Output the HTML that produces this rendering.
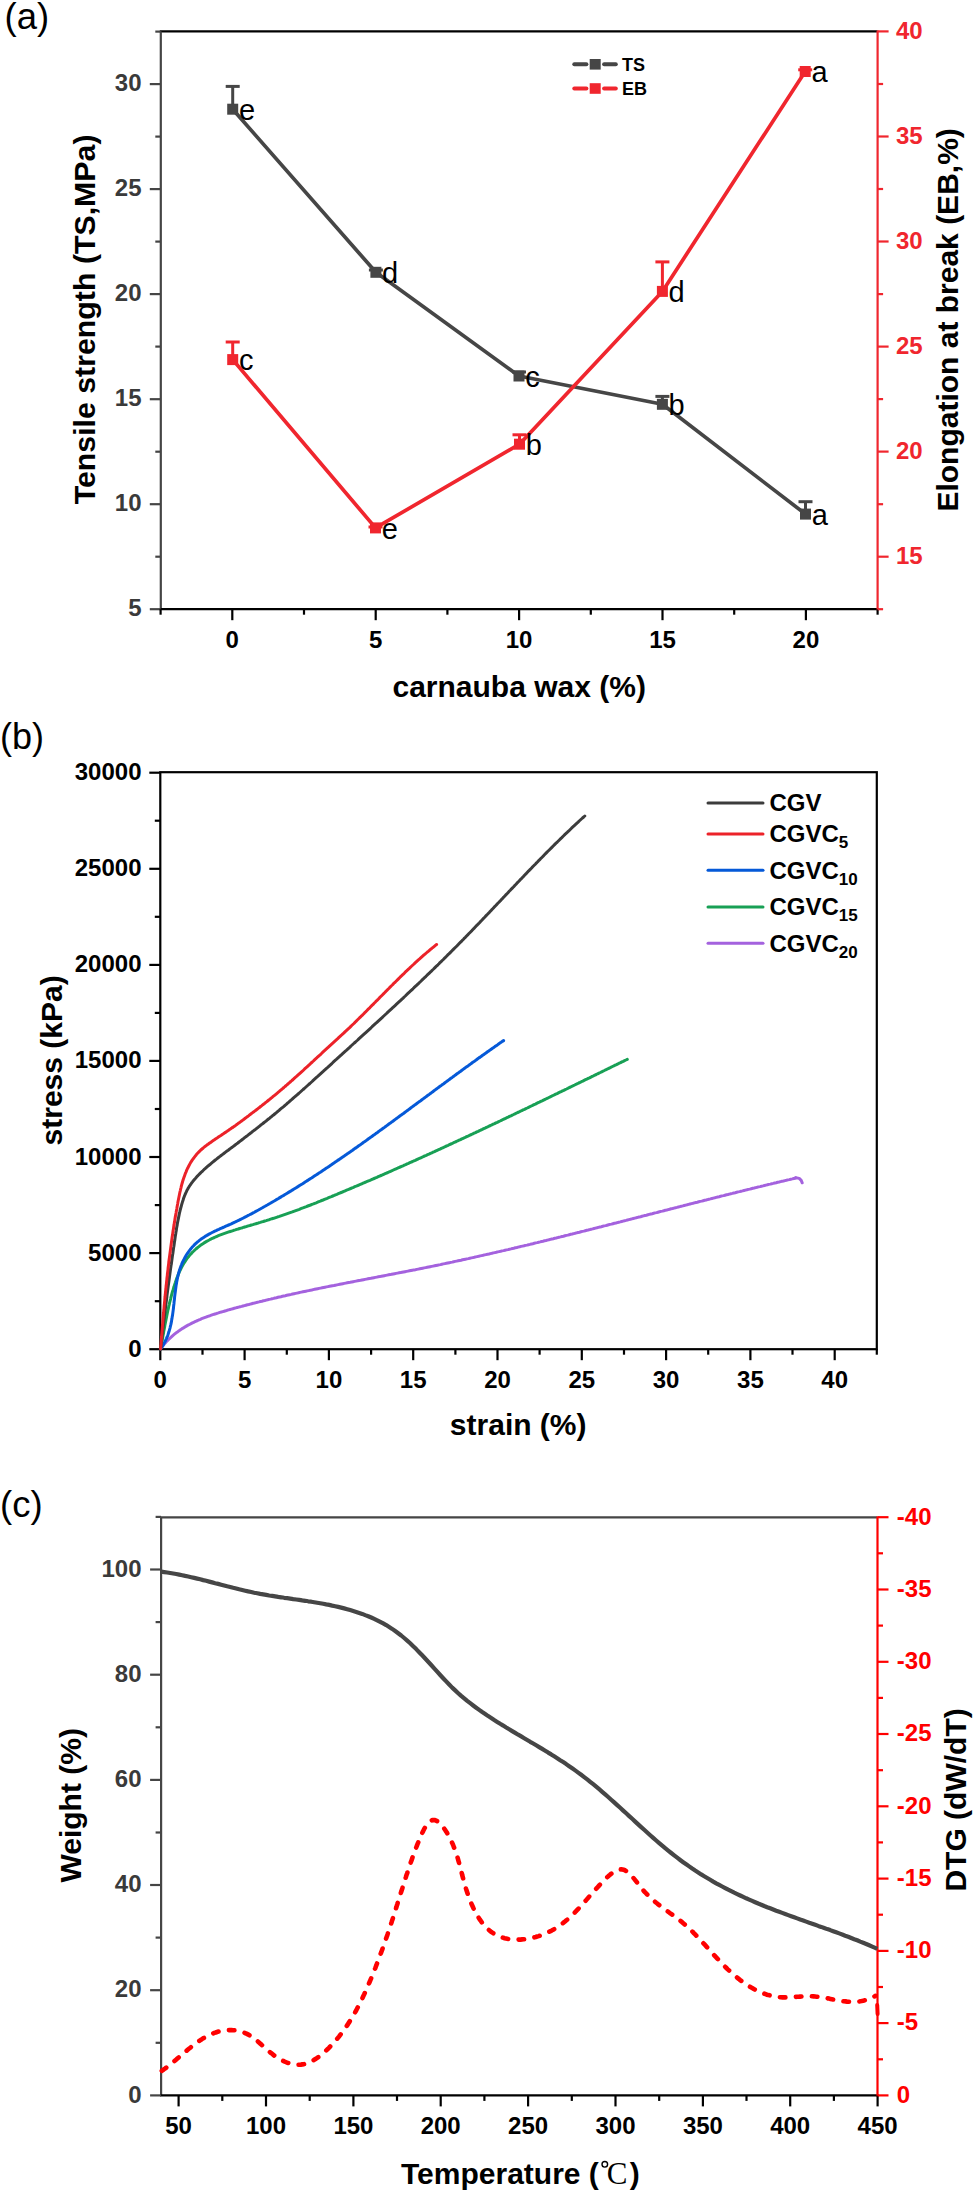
<!DOCTYPE html>
<html><head><meta charset="utf-8"><title>Figure</title>
<style>html,body{margin:0;padding:0;background:#fff;width:975px;height:2193px;overflow:hidden}svg{display:block}text{font-family:"Liberation Sans",sans-serif}</style>
</head><body>
<svg width="975" height="2193" viewBox="0 0 975 2193">
<rect width="975" height="2193" fill="#fff"/>
<text x="4.6" y="28.8" font-size="36.5" fill="#000" text-anchor="start" font-weight="normal" >(a)</text>
<line x1="159.8" y1="31.4" x2="877.6" y2="31.4" stroke="#000" stroke-width="2.2"/>
<line x1="160.8" y1="31.4" x2="160.8" y2="609.2" stroke="#454545" stroke-width="2.2"/>
<line x1="159.8" y1="609.2" x2="878.6" y2="609.2" stroke="#000" stroke-width="2.2"/>
<line x1="877.6" y1="30.4" x2="877.6" y2="610.2" stroke="#f0262e" stroke-width="2.2"/>
<line x1="149.8" y1="609.2" x2="160.8" y2="609.2" stroke="#454545" stroke-width="2.2"/>
<text x="141.5" y="616.2" font-size="24" fill="#3a3a3a" text-anchor="end" font-weight="bold" >5</text>
<line x1="155.3" y1="556.7" x2="160.8" y2="556.7" stroke="#454545" stroke-width="2.2"/>
<line x1="149.8" y1="504.2" x2="160.8" y2="504.2" stroke="#454545" stroke-width="2.2"/>
<text x="141.5" y="511.2" font-size="24" fill="#3a3a3a" text-anchor="end" font-weight="bold" >10</text>
<line x1="155.3" y1="451.7" x2="160.8" y2="451.7" stroke="#454545" stroke-width="2.2"/>
<line x1="149.8" y1="399.2" x2="160.8" y2="399.2" stroke="#454545" stroke-width="2.2"/>
<text x="141.5" y="406.2" font-size="24" fill="#3a3a3a" text-anchor="end" font-weight="bold" >15</text>
<line x1="155.3" y1="346.6" x2="160.8" y2="346.6" stroke="#454545" stroke-width="2.2"/>
<line x1="149.8" y1="294.1" x2="160.8" y2="294.1" stroke="#454545" stroke-width="2.2"/>
<text x="141.5" y="301.1" font-size="24" fill="#3a3a3a" text-anchor="end" font-weight="bold" >20</text>
<line x1="155.3" y1="241.6" x2="160.8" y2="241.6" stroke="#454545" stroke-width="2.2"/>
<line x1="149.8" y1="189.1" x2="160.8" y2="189.1" stroke="#454545" stroke-width="2.2"/>
<text x="141.5" y="196.1" font-size="24" fill="#3a3a3a" text-anchor="end" font-weight="bold" >25</text>
<line x1="155.3" y1="136.6" x2="160.8" y2="136.6" stroke="#454545" stroke-width="2.2"/>
<line x1="149.8" y1="84.1" x2="160.8" y2="84.1" stroke="#454545" stroke-width="2.2"/>
<text x="141.5" y="91.1" font-size="24" fill="#3a3a3a" text-anchor="end" font-weight="bold" >30</text>
<line x1="155.3" y1="31.6" x2="160.8" y2="31.6" stroke="#454545" stroke-width="2.2"/>
<line x1="160.6" y1="609.2" x2="160.6" y2="614.7" stroke="#000" stroke-width="2.2"/>
<line x1="232.3" y1="609.2" x2="232.3" y2="620.2" stroke="#000" stroke-width="2.2"/>
<text x="232.3" y="647.5" font-size="24" fill="#000" text-anchor="middle" font-weight="bold" >0</text>
<line x1="304.0" y1="609.2" x2="304.0" y2="614.7" stroke="#000" stroke-width="2.2"/>
<line x1="375.7" y1="609.2" x2="375.7" y2="620.2" stroke="#000" stroke-width="2.2"/>
<text x="375.7" y="647.5" font-size="24" fill="#000" text-anchor="middle" font-weight="bold" >5</text>
<line x1="447.4" y1="609.2" x2="447.4" y2="614.7" stroke="#000" stroke-width="2.2"/>
<line x1="519.1" y1="609.2" x2="519.1" y2="620.2" stroke="#000" stroke-width="2.2"/>
<text x="519.1" y="647.5" font-size="24" fill="#000" text-anchor="middle" font-weight="bold" >10</text>
<line x1="590.8" y1="609.2" x2="590.8" y2="614.7" stroke="#000" stroke-width="2.2"/>
<line x1="662.5" y1="609.2" x2="662.5" y2="620.2" stroke="#000" stroke-width="2.2"/>
<text x="662.5" y="647.5" font-size="24" fill="#000" text-anchor="middle" font-weight="bold" >15</text>
<line x1="734.2" y1="609.2" x2="734.2" y2="614.7" stroke="#000" stroke-width="2.2"/>
<line x1="805.9" y1="609.2" x2="805.9" y2="620.2" stroke="#000" stroke-width="2.2"/>
<text x="805.9" y="647.5" font-size="24" fill="#000" text-anchor="middle" font-weight="bold" >20</text>
<line x1="877.6" y1="609.2" x2="877.6" y2="614.7" stroke="#000" stroke-width="2.2"/>
<line x1="877.6" y1="609.2" x2="883.1" y2="609.2" stroke="#f0262e" stroke-width="2.2"/>
<line x1="877.6" y1="556.7" x2="888.6" y2="556.7" stroke="#f0262e" stroke-width="2.2"/>
<text x="896.0" y="564.0" font-size="24" fill="#f0262e" text-anchor="start" font-weight="bold" >15</text>
<line x1="877.6" y1="504.2" x2="883.1" y2="504.2" stroke="#f0262e" stroke-width="2.2"/>
<line x1="877.6" y1="451.6" x2="888.6" y2="451.6" stroke="#f0262e" stroke-width="2.2"/>
<text x="896.0" y="458.9" font-size="24" fill="#f0262e" text-anchor="start" font-weight="bold" >20</text>
<line x1="877.6" y1="399.1" x2="883.1" y2="399.1" stroke="#f0262e" stroke-width="2.2"/>
<line x1="877.6" y1="346.6" x2="888.6" y2="346.6" stroke="#f0262e" stroke-width="2.2"/>
<text x="896.0" y="353.9" font-size="24" fill="#f0262e" text-anchor="start" font-weight="bold" >25</text>
<line x1="877.6" y1="294.1" x2="883.1" y2="294.1" stroke="#f0262e" stroke-width="2.2"/>
<line x1="877.6" y1="241.5" x2="888.6" y2="241.5" stroke="#f0262e" stroke-width="2.2"/>
<text x="896.0" y="248.8" font-size="24" fill="#f0262e" text-anchor="start" font-weight="bold" >30</text>
<line x1="877.6" y1="189.0" x2="883.1" y2="189.0" stroke="#f0262e" stroke-width="2.2"/>
<line x1="877.6" y1="136.5" x2="888.6" y2="136.5" stroke="#f0262e" stroke-width="2.2"/>
<text x="896.0" y="143.8" font-size="24" fill="#f0262e" text-anchor="start" font-weight="bold" >35</text>
<line x1="877.6" y1="84.0" x2="883.1" y2="84.0" stroke="#f0262e" stroke-width="2.2"/>
<line x1="877.6" y1="31.4" x2="888.6" y2="31.4" stroke="#f0262e" stroke-width="2.2"/>
<text x="896.0" y="38.7" font-size="24" fill="#f0262e" text-anchor="start" font-weight="bold" >40</text>
<text x="519.2" y="697.0" font-size="30" fill="#000" text-anchor="middle" font-weight="bold" >carnauba wax (%)</text>
<text transform="translate(95.0,319.4) rotate(-90)" font-size="30.3" fill="#000" text-anchor="middle" font-weight="bold">Tensile strength (TS,MPa)</text>
<text transform="translate(957.5,319.9) rotate(-90)" font-size="30" fill="#000" text-anchor="middle" font-weight="bold">Elongation at break (EB,%)</text>
<path d="M232.7,109.2 L375.9,272.3 L519.0,376.0 L662.4,404.3 L805.5,514.1" fill="none" stroke="#464646" stroke-width="3.7" stroke-linejoin="round"/>
<line x1="232.7" y1="86.4" x2="232.7" y2="109.2" stroke="#464646" stroke-width="3"/>
<line x1="225.7" y1="86.4" x2="239.7" y2="86.4" stroke="#464646" stroke-width="3"/>
<rect x="227.2" y="103.7" width="11" height="11" fill="#464646"/>
<text x="238.9" y="119.8" font-size="29" fill="#000" text-anchor="start" font-weight="normal" >e</text>
<line x1="375.9" y1="270.0" x2="375.9" y2="272.3" stroke="#464646" stroke-width="3"/>
<line x1="368.9" y1="270.0" x2="382.9" y2="270.0" stroke="#464646" stroke-width="3"/>
<rect x="370.4" y="266.8" width="11" height="11" fill="#464646"/>
<text x="382.1" y="282.9" font-size="29" fill="#000" text-anchor="start" font-weight="normal" >d</text>
<line x1="519.0" y1="372.0" x2="519.0" y2="376.0" stroke="#464646" stroke-width="3"/>
<line x1="512.0" y1="372.0" x2="526.0" y2="372.0" stroke="#464646" stroke-width="3"/>
<rect x="513.5" y="370.5" width="11" height="11" fill="#464646"/>
<text x="525.2" y="386.6" font-size="29" fill="#000" text-anchor="start" font-weight="normal" >c</text>
<line x1="662.4" y1="396.4" x2="662.4" y2="404.3" stroke="#464646" stroke-width="3"/>
<line x1="655.4" y1="396.4" x2="669.4" y2="396.4" stroke="#464646" stroke-width="3"/>
<rect x="656.9" y="398.8" width="11" height="11" fill="#464646"/>
<text x="668.6" y="414.9" font-size="29" fill="#000" text-anchor="start" font-weight="normal" >b</text>
<line x1="805.5" y1="501.7" x2="805.5" y2="514.1" stroke="#464646" stroke-width="3"/>
<line x1="798.5" y1="501.7" x2="812.5" y2="501.7" stroke="#464646" stroke-width="3"/>
<rect x="800.0" y="508.6" width="11" height="11" fill="#464646"/>
<text x="811.7" y="524.7" font-size="29" fill="#000" text-anchor="start" font-weight="normal" >a</text>
<path d="M232.7,359.6 L375.5,527.9 L519.5,444.2 L662.4,291.4 L805.2,71.5" fill="none" stroke="#f0262e" stroke-width="3.7" stroke-linejoin="round"/>
<line x1="232.7" y1="342.0" x2="232.7" y2="359.6" stroke="#f0262e" stroke-width="3"/>
<line x1="225.7" y1="342.0" x2="239.7" y2="342.0" stroke="#f0262e" stroke-width="3"/>
<rect x="227.2" y="354.1" width="11" height="11" fill="#f0262e"/>
<text x="238.9" y="370.2" font-size="29" fill="#000" text-anchor="start" font-weight="normal" >c</text>
<line x1="375.5" y1="527.0" x2="375.5" y2="527.9" stroke="#f0262e" stroke-width="3"/>
<line x1="368.5" y1="527.0" x2="382.5" y2="527.0" stroke="#f0262e" stroke-width="3"/>
<rect x="370.0" y="522.4" width="11" height="11" fill="#f0262e"/>
<text x="381.7" y="538.5" font-size="29" fill="#000" text-anchor="start" font-weight="normal" >e</text>
<line x1="519.5" y1="434.8" x2="519.5" y2="444.2" stroke="#f0262e" stroke-width="3"/>
<line x1="512.5" y1="434.8" x2="526.5" y2="434.8" stroke="#f0262e" stroke-width="3"/>
<rect x="514.0" y="438.7" width="11" height="11" fill="#f0262e"/>
<text x="525.7" y="454.8" font-size="29" fill="#000" text-anchor="start" font-weight="normal" >b</text>
<line x1="662.4" y1="261.9" x2="662.4" y2="291.4" stroke="#f0262e" stroke-width="3"/>
<line x1="655.4" y1="261.9" x2="669.4" y2="261.9" stroke="#f0262e" stroke-width="3"/>
<rect x="656.9" y="285.9" width="11" height="11" fill="#f0262e"/>
<text x="668.6" y="302.0" font-size="29" fill="#000" text-anchor="start" font-weight="normal" >d</text>
<line x1="805.2" y1="69.8" x2="805.2" y2="71.5" stroke="#f0262e" stroke-width="3"/>
<line x1="798.2" y1="69.8" x2="812.2" y2="69.8" stroke="#f0262e" stroke-width="3"/>
<rect x="799.7" y="66.0" width="11" height="11" fill="#f0262e"/>
<text x="811.4" y="82.1" font-size="29" fill="#000" text-anchor="start" font-weight="normal" >a</text>
<line x1="574.3" y1="64.3" x2="586.4" y2="64.3" stroke="#464646" stroke-width="4" stroke-linecap="round"/>
<line x1="604.1" y1="64.3" x2="615.8" y2="64.3" stroke="#464646" stroke-width="4" stroke-linecap="round"/>
<rect x="589.7" y="59.0" width="11" height="10.6" fill="#464646"/>
<text x="622.0" y="70.6" font-size="18" fill="#000" text-anchor="start" font-weight="bold" >TS</text>
<line x1="574.3" y1="88.5" x2="586.4" y2="88.5" stroke="#f0262e" stroke-width="4" stroke-linecap="round"/>
<line x1="604.1" y1="88.5" x2="615.8" y2="88.5" stroke="#f0262e" stroke-width="4" stroke-linecap="round"/>
<rect x="589.7" y="83.2" width="11" height="10.6" fill="#f0262e"/>
<text x="622.0" y="94.8" font-size="18" fill="#000" text-anchor="start" font-weight="bold" >EB</text>
<text x="0.0" y="749.2" font-size="36" fill="#000" text-anchor="start" font-weight="normal" >(b)</text>
<rect x="160.3" y="772.2" width="716.5" height="577.0" fill="none" stroke="#000" stroke-width="2.2"/>
<line x1="149.3" y1="1349.2" x2="160.3" y2="1349.2" stroke="#000" stroke-width="2.2"/>
<text x="141.5" y="1356.7" font-size="24" fill="#000" text-anchor="end" font-weight="bold" >0</text>
<line x1="154.8" y1="1301.2" x2="160.3" y2="1301.2" stroke="#000" stroke-width="2.2"/>
<line x1="149.3" y1="1253.1" x2="160.3" y2="1253.1" stroke="#000" stroke-width="2.2"/>
<text x="141.5" y="1260.6" font-size="24" fill="#000" text-anchor="end" font-weight="bold" >5000</text>
<line x1="154.8" y1="1205.1" x2="160.3" y2="1205.1" stroke="#000" stroke-width="2.2"/>
<line x1="149.3" y1="1157.0" x2="160.3" y2="1157.0" stroke="#000" stroke-width="2.2"/>
<text x="141.5" y="1164.5" font-size="24" fill="#000" text-anchor="end" font-weight="bold" >10000</text>
<line x1="154.8" y1="1109.0" x2="160.3" y2="1109.0" stroke="#000" stroke-width="2.2"/>
<line x1="149.3" y1="1060.9" x2="160.3" y2="1060.9" stroke="#000" stroke-width="2.2"/>
<text x="141.5" y="1068.4" font-size="24" fill="#000" text-anchor="end" font-weight="bold" >15000</text>
<line x1="154.8" y1="1012.9" x2="160.3" y2="1012.9" stroke="#000" stroke-width="2.2"/>
<line x1="149.3" y1="964.9" x2="160.3" y2="964.9" stroke="#000" stroke-width="2.2"/>
<text x="141.5" y="972.4" font-size="24" fill="#000" text-anchor="end" font-weight="bold" >20000</text>
<line x1="154.8" y1="916.8" x2="160.3" y2="916.8" stroke="#000" stroke-width="2.2"/>
<line x1="149.3" y1="868.8" x2="160.3" y2="868.8" stroke="#000" stroke-width="2.2"/>
<text x="141.5" y="876.3" font-size="24" fill="#000" text-anchor="end" font-weight="bold" >25000</text>
<line x1="154.8" y1="820.7" x2="160.3" y2="820.7" stroke="#000" stroke-width="2.2"/>
<line x1="149.3" y1="772.7" x2="160.3" y2="772.7" stroke="#000" stroke-width="2.2"/>
<text x="141.5" y="780.2" font-size="24" fill="#000" text-anchor="end" font-weight="bold" >30000</text>
<line x1="160.3" y1="1349.2" x2="160.3" y2="1360.2" stroke="#000" stroke-width="2.2"/>
<text x="160.3" y="1387.7" font-size="24" fill="#000" text-anchor="middle" font-weight="bold" >0</text>
<line x1="202.5" y1="1349.2" x2="202.5" y2="1354.7" stroke="#000" stroke-width="2.2"/>
<line x1="244.6" y1="1349.2" x2="244.6" y2="1360.2" stroke="#000" stroke-width="2.2"/>
<text x="244.6" y="1387.7" font-size="24" fill="#000" text-anchor="middle" font-weight="bold" >5</text>
<line x1="286.8" y1="1349.2" x2="286.8" y2="1354.7" stroke="#000" stroke-width="2.2"/>
<line x1="328.9" y1="1349.2" x2="328.9" y2="1360.2" stroke="#000" stroke-width="2.2"/>
<text x="328.9" y="1387.7" font-size="24" fill="#000" text-anchor="middle" font-weight="bold" >10</text>
<line x1="371.1" y1="1349.2" x2="371.1" y2="1354.7" stroke="#000" stroke-width="2.2"/>
<line x1="413.2" y1="1349.2" x2="413.2" y2="1360.2" stroke="#000" stroke-width="2.2"/>
<text x="413.2" y="1387.7" font-size="24" fill="#000" text-anchor="middle" font-weight="bold" >15</text>
<line x1="455.4" y1="1349.2" x2="455.4" y2="1354.7" stroke="#000" stroke-width="2.2"/>
<line x1="497.5" y1="1349.2" x2="497.5" y2="1360.2" stroke="#000" stroke-width="2.2"/>
<text x="497.5" y="1387.7" font-size="24" fill="#000" text-anchor="middle" font-weight="bold" >20</text>
<line x1="539.6" y1="1349.2" x2="539.6" y2="1354.7" stroke="#000" stroke-width="2.2"/>
<line x1="581.8" y1="1349.2" x2="581.8" y2="1360.2" stroke="#000" stroke-width="2.2"/>
<text x="581.8" y="1387.7" font-size="24" fill="#000" text-anchor="middle" font-weight="bold" >25</text>
<line x1="624.0" y1="1349.2" x2="624.0" y2="1354.7" stroke="#000" stroke-width="2.2"/>
<line x1="666.1" y1="1349.2" x2="666.1" y2="1360.2" stroke="#000" stroke-width="2.2"/>
<text x="666.1" y="1387.7" font-size="24" fill="#000" text-anchor="middle" font-weight="bold" >30</text>
<line x1="708.2" y1="1349.2" x2="708.2" y2="1354.7" stroke="#000" stroke-width="2.2"/>
<line x1="750.4" y1="1349.2" x2="750.4" y2="1360.2" stroke="#000" stroke-width="2.2"/>
<text x="750.4" y="1387.7" font-size="24" fill="#000" text-anchor="middle" font-weight="bold" >35</text>
<line x1="792.5" y1="1349.2" x2="792.5" y2="1354.7" stroke="#000" stroke-width="2.2"/>
<line x1="834.7" y1="1349.2" x2="834.7" y2="1360.2" stroke="#000" stroke-width="2.2"/>
<text x="834.7" y="1387.7" font-size="24" fill="#000" text-anchor="middle" font-weight="bold" >40</text>
<line x1="876.8" y1="1349.2" x2="876.8" y2="1354.7" stroke="#000" stroke-width="2.2"/>
<text x="518.2" y="1435.4" font-size="30" fill="#000" text-anchor="middle" font-weight="bold" >strain (%)</text>
<text transform="translate(61.5,1060.4) rotate(-90)" font-size="30" fill="#000" text-anchor="middle" font-weight="bold">stress (kPa)</text>
<path d="M160.4,1348.9 L161.4,1347.7 L162.3,1346.4 L163.3,1345.2 L164.3,1344.1 L165.3,1342.9 L166.3,1341.8 L167.4,1340.7 L168.4,1339.6 L169.5,1338.6 L170.6,1337.6 L171.7,1336.6 L172.8,1335.6 L173.9,1334.7 L175.1,1333.7 L176.2,1332.8 L177.4,1332.0 L178.6,1331.1 L179.8,1330.3 L181.0,1329.4 L182.2,1328.6 L183.5,1327.9 L184.7,1327.1 L185.9,1326.4 L187.2,1325.6 L188.5,1324.9 L189.8,1324.3 L191.1,1323.6 L192.4,1322.9 L193.7,1322.3 L195.0,1321.7 L196.3,1321.1 L197.7,1320.5 L199.0,1319.9 L200.4,1319.3 L201.7,1318.7 L203.1,1318.2 L204.5,1317.7 L205.9,1317.2 L207.2,1316.6 L208.6,1316.1 L210.0,1315.7 L211.4,1315.2 L212.8,1314.7 L214.3,1314.2 L215.7,1313.8 L217.1,1313.3 L218.5,1312.9 L219.9,1312.4 L221.4,1312.0 L222.8,1311.6 L224.2,1311.2 L225.7,1310.8 L227.1,1310.3 L228.6,1309.9 L230.0,1309.5 L231.4,1309.1 L232.9,1308.7 L234.3,1308.3 L235.8,1307.9 L237.2,1307.5 L238.7,1307.1 L240.1,1306.7 L241.6,1306.4 L243.0,1306.0 L244.5,1305.6 L245.9,1305.2 L247.4,1304.8 L248.8,1304.5 L250.3,1304.1 L251.7,1303.7 L253.2,1303.3 L254.6,1303.0 L256.1,1302.6 L257.5,1302.2 L259.0,1301.9 L260.4,1301.5 L261.9,1301.2 L263.4,1300.8 L264.8,1300.5 L266.3,1300.1 L267.7,1299.8 L269.2,1299.4 L270.6,1299.1 L272.1,1298.7 L273.6,1298.4 L275.0,1298.0 L276.5,1297.7 L278.0,1297.3 L279.4,1297.0 L280.9,1296.7 L282.4,1296.3 L283.8,1296.0 L285.3,1295.7 L286.8,1295.3 L288.2,1295.0 L289.7,1294.7 L291.2,1294.4 L292.6,1294.0 L294.1,1293.7 L295.6,1293.4 L297.0,1293.1 L298.5,1292.8 L300.0,1292.4 L301.4,1292.1 L302.9,1291.8 L304.4,1291.5 L305.9,1291.2 L307.3,1290.9 L308.8,1290.6 L310.3,1290.3 L311.8,1290.0 L313.2,1289.6 L314.7,1289.3 L316.2,1289.0 L317.7,1288.7 L319.1,1288.4 L320.6,1288.1 L322.1,1287.8 L323.6,1287.5 L325.0,1287.2 L326.5,1286.9 L328.0,1286.6 L329.5,1286.3 L331.0,1286.0 L332.4,1285.7 L333.9,1285.5 L335.4,1285.2 L336.9,1284.9 L338.3,1284.6 L339.8,1284.3 L341.3,1284.0 L342.8,1283.7 L344.3,1283.4 L345.7,1283.1 L347.2,1282.8 L348.7,1282.5 L350.2,1282.3 L351.7,1282.0 L353.1,1281.7 L354.6,1281.4 L356.1,1281.1 L357.6,1280.8 L359.1,1280.5 L360.6,1280.3 L362.0,1280.0 L363.5,1279.7 L365.0,1279.4 L366.5,1279.1 L368.0,1278.8 L369.4,1278.5 L370.9,1278.3 L372.4,1278.0 L373.9,1277.7 L375.4,1277.4 L376.9,1277.1 L378.3,1276.8 L379.8,1276.6 L381.3,1276.3 L382.8,1276.0 L384.3,1275.7 L385.7,1275.4 L387.2,1275.1 L388.7,1274.8 L390.2,1274.6 L391.7,1274.3 L393.2,1274.0 L394.6,1273.7 L396.1,1273.4 L397.6,1273.1 L399.1,1272.8 L400.6,1272.6 L402.0,1272.3 L403.5,1272.0 L405.0,1271.7 L406.5,1271.4 L408.0,1271.1 L409.4,1270.8 L410.9,1270.5 L412.4,1270.2 L413.9,1269.9 L415.4,1269.7 L416.8,1269.4 L418.3,1269.1 L419.8,1268.8 L421.3,1268.5 L422.7,1268.2 L424.2,1267.9 L425.7,1267.6 L427.2,1267.3 L428.7,1267.0 L430.1,1266.7 L431.6,1266.4 L433.1,1266.1 L434.6,1265.8 L436.0,1265.5 L437.5,1265.2 L439.0,1264.9 L440.5,1264.6 L441.9,1264.2 L443.4,1263.9 L444.9,1263.6 L446.4,1263.3 L447.8,1263.0 L449.3,1262.7 L450.8,1262.4 L452.2,1262.1 L453.7,1261.7 L455.2,1261.4 L456.7,1261.1 L458.1,1260.8 L459.6,1260.5 L461.1,1260.2 L462.5,1259.8 L464.0,1259.5 L465.5,1259.2 L466.9,1258.9 L468.4,1258.6 L469.9,1258.2 L471.4,1257.9 L472.8,1257.6 L474.3,1257.3 L475.8,1256.9 L477.2,1256.6 L478.7,1256.3 L480.2,1255.9 L481.6,1255.6 L483.1,1255.3 L484.6,1254.9 L486.0,1254.6 L487.5,1254.3 L489.0,1254.0 L490.4,1253.6 L491.9,1253.3 L493.4,1252.9 L494.8,1252.6 L496.3,1252.3 L497.7,1251.9 L499.2,1251.6 L500.7,1251.3 L502.1,1250.9 L503.6,1250.6 L505.1,1250.2 L506.5,1249.9 L508.0,1249.6 L509.5,1249.2 L510.9,1248.9 L512.4,1248.5 L513.8,1248.2 L515.3,1247.8 L516.8,1247.5 L518.2,1247.1 L519.7,1246.8 L521.1,1246.4 L522.6,1246.1 L524.1,1245.8 L525.5,1245.4 L527.0,1245.1 L528.5,1244.7 L529.9,1244.4 L531.4,1244.0 L532.8,1243.7 L534.3,1243.3 L535.8,1242.9 L537.2,1242.6 L538.7,1242.2 L540.1,1241.9 L541.6,1241.5 L543.0,1241.2 L544.5,1240.8 L546.0,1240.5 L547.4,1240.1 L548.9,1239.8 L550.3,1239.4 L551.8,1239.0 L553.3,1238.7 L554.7,1238.3 L556.2,1238.0 L557.6,1237.6 L559.1,1237.2 L560.5,1236.9 L562.0,1236.5 L563.5,1236.2 L564.9,1235.8 L566.4,1235.4 L567.8,1235.1 L569.3,1234.7 L570.7,1234.3 L572.2,1234.0 L573.7,1233.6 L575.1,1233.3 L576.6,1232.9 L578.0,1232.5 L579.5,1232.2 L580.9,1231.8 L582.4,1231.4 L583.8,1231.1 L585.3,1230.7 L586.8,1230.3 L588.2,1230.0 L589.7,1229.6 L591.1,1229.2 L592.6,1228.9 L594.0,1228.5 L595.5,1228.1 L596.9,1227.8 L598.4,1227.4 L599.9,1227.0 L601.3,1226.7 L602.8,1226.3 L604.2,1225.9 L605.7,1225.6 L607.1,1225.2 L608.6,1224.8 L610.0,1224.4 L611.5,1224.1 L612.9,1223.7 L614.4,1223.3 L615.9,1223.0 L617.3,1222.6 L618.8,1222.2 L620.2,1221.9 L621.7,1221.5 L623.1,1221.1 L624.6,1220.7 L626.0,1220.4 L627.5,1220.0 L628.9,1219.6 L630.4,1219.3 L631.9,1218.9 L633.3,1218.5 L634.8,1218.1 L636.2,1217.8 L637.7,1217.4 L639.1,1217.0 L640.6,1216.7 L642.0,1216.3 L643.5,1215.9 L644.9,1215.5 L646.4,1215.2 L647.9,1214.8 L649.3,1214.4 L650.8,1214.0 L652.2,1213.7 L653.7,1213.3 L655.1,1212.9 L656.6,1212.6 L658.0,1212.2 L659.5,1211.8 L660.9,1211.4 L662.4,1211.1 L663.9,1210.7 L665.3,1210.3 L666.8,1210.0 L668.2,1209.6 L669.7,1209.2 L671.1,1208.8 L672.6,1208.5 L674.0,1208.1 L675.5,1207.7 L676.9,1207.4 L678.4,1207.0 L679.9,1206.6 L681.3,1206.2 L682.8,1205.9 L684.2,1205.5 L685.7,1205.1 L687.1,1204.8 L688.6,1204.4 L690.0,1204.0 L691.5,1203.6 L693.0,1203.3 L694.4,1202.9 L695.9,1202.5 L697.3,1202.2 L698.8,1201.8 L700.2,1201.4 L701.7,1201.1 L703.2,1200.7 L704.6,1200.3 L706.1,1200.0 L707.5,1199.6 L709.0,1199.2 L710.4,1198.9 L711.9,1198.5 L713.4,1198.1 L714.8,1197.8 L716.3,1197.4 L717.7,1197.0 L719.2,1196.7 L720.6,1196.3 L722.1,1195.9 L723.6,1195.6 L725.0,1195.2 L726.5,1194.8 L727.9,1194.5 L729.4,1194.1 L730.9,1193.7 L732.3,1193.4 L733.8,1193.0 L735.2,1192.7 L736.7,1192.3 L738.2,1191.9 L739.6,1191.6 L741.1,1191.2 L742.5,1190.9 L744.0,1190.5 L745.5,1190.1 L746.9,1189.8 L748.4,1189.4 L749.8,1189.1 L751.3,1188.7 L752.8,1188.3 L754.2,1188.0 L755.7,1187.6 L757.1,1187.3 L758.6,1186.9 L760.1,1186.6 L761.5,1186.2 L763.0,1185.9 L764.5,1185.5 L765.9,1185.1 L767.4,1184.8 L768.8,1184.4 L770.3,1184.1 L771.8,1183.7 L773.2,1183.4 L774.7,1183.0 L776.2,1182.7 L777.6,1182.3 L779.1,1182.0 L780.6,1181.6 L782.0,1181.3 L783.5,1181.0 L785.0,1180.6 L786.4,1180.3 L787.9,1179.9 L789.4,1179.6 L790.8,1179.2 L792.3,1178.9 L793.8,1178.5 L795.2,1178.2 L796.7,1177.9 L795.6,1177.6 L799.2,1178.4 L801.2,1180.4 L802.2,1182.8" fill="none" stroke="#a462de" stroke-width="3" stroke-linecap="round" stroke-linejoin="round"/>
<path d="M160.6,1349.0 L160.8,1347.6 L161.1,1346.2 L161.4,1344.8 L161.6,1343.3 L161.9,1341.9 L162.2,1340.5 L162.4,1339.0 L162.7,1337.6 L162.9,1336.1 L163.2,1334.7 L163.5,1333.2 L163.7,1331.7 L164.0,1330.2 L164.3,1328.7 L164.6,1327.2 L164.8,1325.8 L165.1,1324.3 L165.4,1322.8 L165.7,1321.2 L166.0,1319.7 L166.3,1318.2 L166.6,1316.7 L166.9,1315.2 L167.2,1313.7 L167.5,1312.2 L167.8,1310.7 L168.2,1309.2 L168.5,1307.7 L168.8,1306.1 L169.2,1304.6 L169.5,1303.1 L169.9,1301.6 L170.3,1300.1 L170.7,1298.6 L171.0,1297.1 L171.4,1295.6 L171.8,1294.2 L172.2,1292.7 L172.6,1291.2 L173.1,1289.7 L173.5,1288.3 L174.0,1286.8 L174.4,1285.4 L174.9,1283.9 L175.4,1282.5 L175.8,1281.1 L176.3,1279.6 L176.8,1278.2 L177.4,1276.8 L177.9,1275.4 L178.5,1274.1 L179.0,1272.7 L179.6,1271.3 L180.3,1270.0 L180.9,1268.7 L181.6,1267.4 L182.2,1266.1 L183.0,1264.8 L183.7,1263.5 L184.5,1262.3 L185.3,1261.1 L186.1,1259.9 L186.9,1258.7 L187.8,1257.5 L188.8,1256.4 L189.7,1255.2 L190.7,1254.1 L191.7,1253.1 L192.7,1252.0 L193.8,1251.0 L194.8,1250.0 L195.9,1249.0 L197.1,1248.0 L198.2,1247.1 L199.4,1246.2 L200.5,1245.3 L201.7,1244.5 L202.9,1243.7 L204.1,1242.9 L205.4,1242.1 L206.6,1241.4 L207.9,1240.7 L209.2,1240.0 L210.4,1239.3 L211.7,1238.7 L213.0,1238.1 L214.4,1237.5 L215.7,1236.9 L217.0,1236.3 L218.4,1235.7 L219.7,1235.2 L221.1,1234.7 L222.5,1234.2 L223.9,1233.7 L225.3,1233.2 L226.7,1232.7 L228.1,1232.2 L229.5,1231.7 L230.9,1231.3 L232.4,1230.8 L233.8,1230.3 L235.3,1229.9 L236.7,1229.4 L238.2,1229.0 L239.6,1228.5 L241.1,1228.1 L242.6,1227.7 L244.0,1227.2 L245.5,1226.8 L247.0,1226.3 L248.5,1225.9 L249.9,1225.5 L251.4,1225.0 L252.9,1224.6 L254.4,1224.1 L255.9,1223.7 L257.4,1223.3 L258.8,1222.8 L260.3,1222.4 L261.8,1221.9 L263.3,1221.5 L264.8,1221.0 L266.2,1220.6 L267.7,1220.1 L269.2,1219.7 L270.7,1219.2 L272.1,1218.7 L273.6,1218.3 L275.0,1217.8 L276.5,1217.3 L277.9,1216.8 L279.4,1216.4 L280.8,1215.9 L282.3,1215.4 L283.7,1214.9 L285.2,1214.4 L286.6,1213.9 L288.0,1213.4 L289.4,1212.9 L290.9,1212.4 L292.3,1211.9 L293.7,1211.3 L295.1,1210.8 L296.5,1210.3 L298.0,1209.8 L299.4,1209.3 L300.8,1208.7 L302.2,1208.2 L303.6,1207.7 L305.0,1207.1 L306.4,1206.6 L307.8,1206.0 L309.2,1205.5 L310.6,1205.0 L312.0,1204.4 L313.4,1203.9 L314.8,1203.3 L316.2,1202.8 L317.6,1202.2 L318.9,1201.6 L320.3,1201.1 L321.7,1200.5 L323.1,1200.0 L324.5,1199.4 L325.9,1198.8 L327.2,1198.3 L328.6,1197.7 L330.0,1197.1 L331.4,1196.6 L332.8,1196.0 L334.2,1195.4 L335.5,1194.8 L336.9,1194.3 L338.3,1193.7 L339.7,1193.1 L341.1,1192.5 L342.4,1192.0 L343.8,1191.4 L345.2,1190.8 L346.6,1190.2 L347.9,1189.7 L349.3,1189.1 L350.7,1188.5 L352.1,1187.9 L353.5,1187.3 L354.8,1186.7 L356.2,1186.2 L357.6,1185.6 L359.0,1185.0 L360.3,1184.4 L361.7,1183.8 L363.1,1183.2 L364.5,1182.6 L365.9,1182.0 L367.2,1181.4 L368.6,1180.8 L370.0,1180.3 L371.4,1179.7 L372.7,1179.1 L374.1,1178.5 L375.5,1177.9 L376.9,1177.3 L378.2,1176.7 L379.6,1176.1 L381.0,1175.5 L382.4,1174.9 L383.7,1174.3 L385.1,1173.7 L386.5,1173.1 L387.9,1172.5 L389.2,1171.9 L390.6,1171.3 L392.0,1170.7 L393.4,1170.0 L394.7,1169.4 L396.1,1168.8 L397.5,1168.2 L398.8,1167.6 L400.2,1167.0 L401.6,1166.4 L403.0,1165.8 L404.3,1165.2 L405.7,1164.6 L407.1,1163.9 L408.5,1163.3 L409.8,1162.7 L411.2,1162.1 L412.6,1161.5 L413.9,1160.9 L415.3,1160.3 L416.7,1159.6 L418.1,1159.0 L419.4,1158.4 L420.8,1157.8 L422.2,1157.2 L423.5,1156.5 L424.9,1155.9 L426.3,1155.3 L427.6,1154.7 L429.0,1154.1 L430.4,1153.4 L431.8,1152.8 L433.1,1152.2 L434.5,1151.6 L435.9,1150.9 L437.2,1150.3 L438.6,1149.7 L440.0,1149.1 L441.3,1148.4 L442.7,1147.8 L444.1,1147.2 L445.4,1146.5 L446.8,1145.9 L448.2,1145.3 L449.5,1144.6 L450.9,1144.0 L452.3,1143.4 L453.6,1142.7 L455.0,1142.1 L456.4,1141.5 L457.7,1140.8 L459.1,1140.2 L460.5,1139.6 L461.8,1138.9 L463.2,1138.3 L464.6,1137.7 L465.9,1137.0 L467.3,1136.4 L468.7,1135.8 L470.0,1135.1 L471.4,1134.5 L472.8,1133.8 L474.1,1133.2 L475.5,1132.6 L476.8,1131.9 L478.2,1131.3 L479.6,1130.6 L480.9,1130.0 L482.3,1129.4 L483.7,1128.7 L485.0,1128.1 L486.4,1127.4 L487.8,1126.8 L489.1,1126.1 L490.5,1125.5 L491.8,1124.9 L493.2,1124.2 L494.6,1123.6 L495.9,1122.9 L497.3,1122.3 L498.7,1121.6 L500.0,1121.0 L501.4,1120.3 L502.7,1119.7 L504.1,1119.0 L505.5,1118.4 L506.8,1117.7 L508.2,1117.1 L509.5,1116.4 L510.9,1115.8 L512.3,1115.1 L513.6,1114.5 L515.0,1113.8 L516.3,1113.2 L517.7,1112.5 L519.1,1111.9 L520.4,1111.2 L521.8,1110.6 L523.1,1109.9 L524.5,1109.3 L525.9,1108.6 L527.2,1108.0 L528.6,1107.3 L529.9,1106.7 L531.3,1106.0 L532.6,1105.4 L534.0,1104.7 L535.4,1104.1 L536.7,1103.4 L538.1,1102.7 L539.4,1102.1 L540.8,1101.4 L542.1,1100.8 L543.5,1100.1 L544.9,1099.5 L546.2,1098.8 L547.6,1098.2 L548.9,1097.5 L550.3,1096.8 L551.6,1096.2 L553.0,1095.5 L554.3,1094.9 L555.7,1094.2 L557.1,1093.6 L558.4,1092.9 L559.8,1092.2 L561.1,1091.6 L562.5,1090.9 L563.8,1090.3 L565.2,1089.6 L566.5,1089.0 L567.9,1088.3 L569.2,1087.6 L570.6,1087.0 L571.9,1086.3 L573.3,1085.7 L574.7,1085.0 L576.0,1084.3 L577.4,1083.7 L578.7,1083.0 L580.1,1082.4 L581.4,1081.7 L582.8,1081.1 L584.1,1080.4 L585.5,1079.7 L586.8,1079.1 L588.2,1078.4 L589.5,1077.8 L590.9,1077.1 L592.2,1076.4 L593.6,1075.8 L594.9,1075.1 L596.3,1074.5 L597.6,1073.8 L599.0,1073.1 L600.3,1072.5 L601.7,1071.8 L603.0,1071.2 L604.4,1070.5 L605.7,1069.8 L607.1,1069.2 L608.4,1068.5 L609.8,1067.9 L611.1,1067.2 L612.5,1066.5 L613.8,1065.9 L615.2,1065.2 L616.5,1064.6 L617.9,1063.9 L619.2,1063.2 L620.6,1062.6 L621.9,1061.9 L623.2,1061.3 L624.6,1060.6 L625.9,1060.0 L627.3,1059.3" fill="none" stroke="#18a055" stroke-width="3" stroke-linecap="round" stroke-linejoin="round"/>
<path d="M160.6,1349.0 L161.4,1347.7 L162.3,1346.5 L163.1,1345.2 L163.8,1343.9 L164.5,1342.6 L165.2,1341.3 L165.8,1339.9 L166.4,1338.6 L167.0,1337.2 L167.6,1335.8 L168.1,1334.4 L168.5,1333.0 L169.0,1331.6 L169.4,1330.2 L169.8,1328.8 L170.2,1327.3 L170.5,1325.9 L170.9,1324.4 L171.2,1322.9 L171.5,1321.4 L171.7,1319.9 L172.0,1318.4 L172.2,1316.9 L172.5,1315.4 L172.7,1313.9 L172.9,1312.4 L173.1,1310.9 L173.3,1309.4 L173.5,1307.8 L173.6,1306.3 L173.8,1304.8 L174.0,1303.2 L174.1,1301.7 L174.3,1300.2 L174.5,1298.6 L174.6,1297.1 L174.8,1295.5 L175.0,1294.0 L175.2,1292.5 L175.4,1291.0 L175.6,1289.4 L175.8,1287.9 L176.0,1286.4 L176.2,1284.9 L176.5,1283.4 L176.7,1281.9 L177.0,1280.4 L177.3,1278.9 L177.6,1277.4 L178.0,1275.9 L178.3,1274.5 L178.7,1273.0 L179.1,1271.6 L179.5,1270.1 L180.0,1268.7 L180.5,1267.3 L181.0,1265.9 L181.6,1264.5 L182.1,1263.1 L182.8,1261.8 L183.4,1260.4 L184.1,1259.1 L184.8,1257.8 L185.5,1256.5 L186.2,1255.3 L187.0,1254.0 L187.8,1252.8 L188.7,1251.6 L189.6,1250.4 L190.4,1249.3 L191.4,1248.1 L192.3,1247.0 L193.3,1246.0 L194.3,1244.9 L195.3,1243.9 L196.4,1243.0 L197.4,1242.0 L198.6,1241.1 L199.7,1240.2 L200.8,1239.3 L202.0,1238.5 L203.2,1237.7 L204.4,1236.9 L205.6,1236.1 L206.9,1235.4 L208.2,1234.6 L209.5,1233.9 L210.8,1233.2 L212.1,1232.5 L213.4,1231.9 L214.8,1231.2 L216.1,1230.6 L217.5,1229.9 L218.9,1229.3 L220.2,1228.7 L221.6,1228.1 L223.0,1227.5 L224.4,1226.9 L225.8,1226.2 L227.2,1225.6 L228.6,1225.0 L230.0,1224.4 L231.3,1223.8 L232.7,1223.1 L234.1,1222.5 L235.5,1221.8 L236.9,1221.2 L238.2,1220.5 L239.6,1219.9 L241.0,1219.2 L242.3,1218.5 L243.7,1217.8 L245.0,1217.1 L246.4,1216.4 L247.7,1215.7 L249.1,1215.0 L250.4,1214.3 L251.8,1213.6 L253.1,1212.9 L254.4,1212.2 L255.8,1211.4 L257.1,1210.7 L258.4,1210.0 L259.8,1209.2 L261.1,1208.5 L262.4,1207.8 L263.7,1207.0 L265.0,1206.3 L266.4,1205.5 L267.7,1204.8 L269.0,1204.0 L270.3,1203.3 L271.6,1202.5 L272.9,1201.7 L274.2,1201.0 L275.5,1200.2 L276.8,1199.4 L278.1,1198.7 L279.4,1197.9 L280.7,1197.1 L282.0,1196.3 L283.3,1195.6 L284.6,1194.8 L285.9,1194.0 L287.2,1193.2 L288.5,1192.4 L289.8,1191.6 L291.1,1190.9 L292.3,1190.1 L293.6,1189.3 L294.9,1188.5 L296.2,1187.7 L297.5,1186.9 L298.7,1186.1 L300.0,1185.3 L301.3,1184.5 L302.6,1183.7 L303.8,1182.9 L305.1,1182.0 L306.4,1181.2 L307.7,1180.4 L308.9,1179.6 L310.2,1178.8 L311.5,1178.0 L312.7,1177.2 L314.0,1176.3 L315.2,1175.5 L316.5,1174.7 L317.8,1173.9 L319.0,1173.0 L320.3,1172.2 L321.5,1171.4 L322.8,1170.5 L324.0,1169.7 L325.3,1168.9 L326.5,1168.0 L327.8,1167.2 L329.0,1166.4 L330.3,1165.5 L331.5,1164.7 L332.8,1163.8 L334.0,1163.0 L335.3,1162.1 L336.5,1161.3 L337.7,1160.4 L339.0,1159.6 L340.2,1158.7 L341.5,1157.9 L342.7,1157.0 L343.9,1156.2 L345.2,1155.3 L346.4,1154.5 L347.7,1153.6 L348.9,1152.7 L350.1,1151.9 L351.4,1151.0 L352.6,1150.2 L353.8,1149.3 L355.0,1148.4 L356.3,1147.6 L357.5,1146.7 L358.7,1145.8 L360.0,1145.0 L361.2,1144.1 L362.4,1143.2 L363.6,1142.3 L364.9,1141.5 L366.1,1140.6 L367.3,1139.7 L368.5,1138.8 L369.7,1138.0 L371.0,1137.1 L372.2,1136.2 L373.4,1135.3 L374.6,1134.5 L375.8,1133.6 L377.1,1132.7 L378.3,1131.8 L379.5,1130.9 L380.7,1130.0 L381.9,1129.2 L383.1,1128.3 L384.4,1127.4 L385.6,1126.5 L386.8,1125.6 L388.0,1124.7 L389.2,1123.8 L390.4,1123.0 L391.6,1122.1 L392.9,1121.2 L394.1,1120.3 L395.3,1119.4 L396.5,1118.5 L397.7,1117.6 L398.9,1116.7 L400.1,1115.8 L401.3,1115.0 L402.6,1114.1 L403.8,1113.2 L405.0,1112.3 L406.2,1111.4 L407.4,1110.5 L408.6,1109.6 L409.8,1108.7 L411.0,1107.8 L412.2,1106.9 L413.4,1106.0 L414.6,1105.1 L415.9,1104.2 L417.1,1103.3 L418.3,1102.4 L419.5,1101.5 L420.7,1100.7 L421.9,1099.8 L423.1,1098.9 L424.3,1098.0 L425.5,1097.1 L426.7,1096.2 L427.9,1095.3 L429.2,1094.4 L430.4,1093.5 L431.6,1092.6 L432.8,1091.7 L434.0,1090.8 L435.2,1089.9 L436.4,1089.0 L437.6,1088.1 L438.8,1087.2 L440.0,1086.3 L441.3,1085.4 L442.5,1084.5 L443.7,1083.7 L444.9,1082.8 L446.1,1081.9 L447.3,1081.0 L448.5,1080.1 L449.7,1079.2 L450.9,1078.3 L452.2,1077.4 L453.4,1076.5 L454.6,1075.6 L455.8,1074.7 L457.0,1073.8 L458.2,1073.0 L459.4,1072.1 L460.7,1071.2 L461.9,1070.3 L463.1,1069.4 L464.3,1068.5 L465.5,1067.6 L466.7,1066.8 L468.0,1065.9 L469.2,1065.0 L470.4,1064.1 L471.6,1063.2 L472.8,1062.3 L474.1,1061.5 L475.3,1060.6 L476.5,1059.7 L477.7,1058.8 L478.9,1057.9 L480.2,1057.1 L481.4,1056.2 L482.6,1055.3 L483.9,1054.4 L485.1,1053.6 L486.3,1052.7 L487.5,1051.8 L488.8,1050.9 L490.0,1050.1 L491.2,1049.2 L492.5,1048.3 L493.7,1047.5 L494.9,1046.6 L496.2,1045.7 L497.4,1044.9 L498.6,1044.0 L499.9,1043.1 L501.1,1042.3 L502.3,1041.4 L503.6,1040.6" fill="none" stroke="#0559d8" stroke-width="3" stroke-linecap="round" stroke-linejoin="round"/>
<path d="M160.6,1349.0 L160.8,1347.5 L161.0,1346.0 L161.1,1344.4 L161.3,1342.9 L161.5,1341.4 L161.6,1339.9 L161.8,1338.4 L162.0,1336.9 L162.1,1335.4 L162.3,1333.9 L162.5,1332.4 L162.7,1330.9 L162.8,1329.4 L163.0,1327.9 L163.2,1326.4 L163.4,1324.9 L163.5,1323.4 L163.7,1321.9 L163.9,1320.4 L164.1,1319.0 L164.3,1317.5 L164.4,1316.0 L164.6,1314.5 L164.8,1313.0 L165.0,1311.5 L165.2,1310.0 L165.4,1308.6 L165.5,1307.1 L165.7,1305.6 L165.9,1304.1 L166.1,1302.7 L166.3,1301.2 L166.5,1299.7 L166.7,1298.2 L166.9,1296.7 L167.0,1295.3 L167.2,1293.8 L167.4,1292.3 L167.6,1290.8 L167.8,1289.4 L168.0,1287.9 L168.2,1286.4 L168.4,1284.9 L168.6,1283.5 L168.8,1282.0 L169.0,1280.5 L169.2,1279.0 L169.4,1277.5 L169.6,1276.1 L169.8,1274.6 L170.0,1273.1 L170.2,1271.6 L170.4,1270.1 L170.6,1268.6 L170.8,1267.2 L171.0,1265.7 L171.3,1264.2 L171.5,1262.7 L171.7,1261.2 L171.9,1259.7 L172.1,1258.2 L172.3,1256.7 L172.5,1255.2 L172.8,1253.7 L173.0,1252.2 L173.2,1250.7 L173.4,1249.2 L173.6,1247.7 L173.9,1246.2 L174.1,1244.7 L174.3,1243.2 L174.5,1241.6 L174.8,1240.1 L175.0,1238.6 L175.2,1237.1 L175.4,1235.6 L175.7,1234.0 L175.9,1232.5 L176.2,1231.0 L176.4,1229.5 L176.6,1227.9 L176.9,1226.4 L177.2,1224.9 L177.4,1223.4 L177.7,1221.9 L178.0,1220.4 L178.3,1218.9 L178.6,1217.4 L178.9,1215.9 L179.2,1214.4 L179.5,1212.9 L179.9,1211.4 L180.2,1210.0 L180.6,1208.5 L181.0,1207.1 L181.4,1205.6 L181.8,1204.2 L182.2,1202.8 L182.6,1201.4 L183.1,1200.0 L183.5,1198.6 L184.0,1197.2 L184.5,1195.9 L185.1,1194.5 L185.7,1193.2 L186.3,1191.9 L186.9,1190.5 L187.6,1189.3 L188.3,1188.0 L189.1,1186.7 L189.9,1185.5 L190.7,1184.3 L191.6,1183.0 L192.5,1181.9 L193.4,1180.7 L194.4,1179.5 L195.4,1178.4 L196.4,1177.2 L197.4,1176.1 L198.5,1175.0 L199.6,1173.9 L200.6,1172.9 L201.7,1171.8 L202.8,1170.8 L203.9,1169.7 L205.1,1168.7 L206.2,1167.7 L207.3,1166.7 L208.4,1165.7 L209.6,1164.8 L210.7,1163.8 L211.8,1162.9 L213.0,1161.9 L214.1,1161.0 L215.3,1160.0 L216.5,1159.1 L217.6,1158.2 L218.8,1157.3 L220.0,1156.4 L221.1,1155.5 L222.3,1154.6 L223.5,1153.7 L224.7,1152.8 L225.8,1151.9 L227.0,1151.0 L228.2,1150.2 L229.4,1149.3 L230.6,1148.4 L231.8,1147.5 L233.0,1146.6 L234.2,1145.7 L235.4,1144.8 L236.6,1143.9 L237.8,1143.0 L239.0,1142.0 L240.2,1141.1 L241.4,1140.2 L242.6,1139.3 L243.8,1138.3 L245.0,1137.4 L246.2,1136.5 L247.4,1135.6 L248.6,1134.6 L249.8,1133.7 L251.0,1132.8 L252.2,1131.8 L253.4,1130.9 L254.6,1130.0 L255.8,1129.1 L257.0,1128.1 L258.2,1127.2 L259.3,1126.3 L260.5,1125.3 L261.7,1124.4 L262.9,1123.5 L264.1,1122.5 L265.3,1121.6 L266.5,1120.7 L267.6,1119.7 L268.8,1118.8 L270.0,1117.8 L271.2,1116.9 L272.3,1115.9 L273.5,1115.0 L274.7,1114.0 L275.8,1113.1 L277.0,1112.1 L278.1,1111.1 L279.3,1110.2 L280.4,1109.2 L281.6,1108.2 L282.7,1107.3 L283.9,1106.3 L285.0,1105.3 L286.2,1104.3 L287.3,1103.3 L288.5,1102.4 L289.6,1101.4 L290.7,1100.4 L291.9,1099.4 L293.0,1098.4 L294.1,1097.4 L295.3,1096.4 L296.4,1095.5 L297.5,1094.5 L298.7,1093.5 L299.8,1092.5 L300.9,1091.5 L302.0,1090.5 L303.1,1089.5 L304.3,1088.5 L305.4,1087.5 L306.5,1086.5 L307.6,1085.5 L308.7,1084.5 L309.9,1083.5 L311.0,1082.5 L312.1,1081.5 L313.2,1080.4 L314.3,1079.4 L315.4,1078.4 L316.5,1077.4 L317.7,1076.4 L318.8,1075.4 L319.9,1074.4 L321.0,1073.4 L322.1,1072.4 L323.2,1071.4 L324.3,1070.3 L325.4,1069.3 L326.5,1068.3 L327.7,1067.3 L328.8,1066.3 L329.9,1065.3 L331.0,1064.3 L332.1,1063.3 L333.2,1062.2 L334.3,1061.2 L335.4,1060.2 L336.6,1059.2 L337.7,1058.2 L338.8,1057.2 L339.9,1056.2 L341.0,1055.2 L342.1,1054.1 L343.2,1053.1 L344.3,1052.1 L345.4,1051.1 L346.6,1050.1 L347.7,1049.1 L348.8,1048.1 L349.9,1047.1 L351.0,1046.0 L352.1,1045.0 L353.2,1044.0 L354.3,1043.0 L355.5,1042.0 L356.6,1041.0 L357.7,1040.0 L358.8,1038.9 L359.9,1037.9 L361.0,1036.9 L362.1,1035.9 L363.2,1034.9 L364.3,1033.9 L365.5,1032.8 L366.6,1031.8 L367.7,1030.8 L368.8,1029.8 L369.9,1028.8 L371.0,1027.8 L372.1,1026.7 L373.2,1025.7 L374.3,1024.7 L375.4,1023.7 L376.6,1022.7 L377.7,1021.6 L378.8,1020.6 L379.9,1019.6 L381.0,1018.6 L382.1,1017.6 L383.2,1016.5 L384.3,1015.5 L385.4,1014.5 L386.5,1013.5 L387.6,1012.4 L388.7,1011.4 L389.8,1010.4 L390.9,1009.4 L392.0,1008.4 L393.1,1007.3 L394.2,1006.3 L395.3,1005.3 L396.5,1004.2 L397.6,1003.2 L398.7,1002.2 L399.8,1001.2 L400.9,1000.1 L402.0,999.1 L403.1,998.1 L404.2,997.0 L405.3,996.0 L406.3,995.0 L407.4,993.9 L408.5,992.9 L409.6,991.9 L410.7,990.8 L411.8,989.8 L412.9,988.8 L414.0,987.7 L415.1,986.7 L416.2,985.7 L417.3,984.6 L418.4,983.6 L419.5,982.5 L420.6,981.5 L421.6,980.5 L422.7,979.4 L423.8,978.4 L424.9,977.3 L426.0,976.3 L427.1,975.2 L428.2,974.2 L429.3,973.2 L430.3,972.1 L431.4,971.1 L432.5,970.0 L433.6,969.0 L434.7,967.9 L435.7,966.9 L436.8,965.8 L437.9,964.8 L439.0,963.7 L440.0,962.6 L441.1,961.6 L442.2,960.5 L443.3,959.5 L444.3,958.4 L445.4,957.4 L446.5,956.3 L447.5,955.2 L448.6,954.2 L449.7,953.1 L450.7,952.1 L451.8,951.0 L452.9,949.9 L453.9,948.9 L455.0,947.8 L456.1,946.7 L457.1,945.7 L458.2,944.6 L459.2,943.5 L460.3,942.4 L461.4,941.4 L462.4,940.3 L463.5,939.2 L464.5,938.1 L465.6,937.1 L466.6,936.0 L467.7,934.9 L468.7,933.8 L469.8,932.7 L470.8,931.7 L471.9,930.6 L472.9,929.5 L474.0,928.4 L475.0,927.3 L476.0,926.2 L477.1,925.2 L478.1,924.1 L479.2,923.0 L480.2,921.9 L481.3,920.8 L482.3,919.7 L483.3,918.6 L484.4,917.5 L485.4,916.4 L486.4,915.4 L487.5,914.3 L488.5,913.2 L489.6,912.1 L490.6,911.0 L491.6,909.9 L492.7,908.8 L493.7,907.7 L494.7,906.6 L495.8,905.5 L496.8,904.4 L497.9,903.3 L498.9,902.3 L499.9,901.2 L501.0,900.1 L502.0,899.0 L503.0,897.9 L504.1,896.8 L505.1,895.7 L506.1,894.6 L507.2,893.5 L508.2,892.4 L509.2,891.3 L510.3,890.2 L511.3,889.1 L512.3,888.1 L513.4,887.0 L514.4,885.9 L515.5,884.8 L516.5,883.7 L517.5,882.6 L518.6,881.5 L519.6,880.4 L520.6,879.3 L521.7,878.3 L522.7,877.2 L523.8,876.1 L524.8,875.0 L525.9,873.9 L526.9,872.8 L527.9,871.7 L529.0,870.7 L530.0,869.6 L531.1,868.5 L532.1,867.4 L533.2,866.3 L534.2,865.3 L535.3,864.2 L536.3,863.1 L537.4,862.0 L538.4,860.9 L539.5,859.9 L540.5,858.8 L541.6,857.7 L542.6,856.7 L543.7,855.6 L544.7,854.5 L545.8,853.4 L546.8,852.4 L547.9,851.3 L549.0,850.2 L550.0,849.2 L551.1,848.1 L552.1,847.1 L553.2,846.0 L554.3,844.9 L555.3,843.9 L556.4,842.8 L557.5,841.8 L558.6,840.7 L559.6,839.7 L560.7,838.6 L561.8,837.6 L562.9,836.5 L563.9,835.5 L565.0,834.4 L566.1,833.4 L567.2,832.4 L568.3,831.3 L569.4,830.3 L570.5,829.2 L571.5,828.2 L572.6,827.2 L573.7,826.2 L574.8,825.1 L575.9,824.1 L577.0,823.1 L578.1,822.1 L579.2,821.0 L580.3,820.0 L581.4,819.0 L582.5,818.0 L583.7,817.0 L584.8,816.0" fill="none" stroke="#3c3c3c" stroke-width="3" stroke-linecap="round" stroke-linejoin="round"/>
<path d="M160.6,1349.0 L160.7,1347.5 L160.8,1346.0 L161.0,1344.5 L161.1,1343.0 L161.2,1341.5 L161.3,1340.0 L161.4,1338.5 L161.6,1337.0 L161.7,1335.5 L161.8,1334.0 L161.9,1332.5 L162.0,1331.0 L162.2,1329.5 L162.3,1328.0 L162.4,1326.5 L162.5,1325.0 L162.7,1323.5 L162.8,1322.0 L162.9,1320.5 L163.0,1319.0 L163.2,1317.5 L163.3,1316.0 L163.4,1314.5 L163.6,1313.0 L163.7,1311.5 L163.8,1310.0 L164.0,1308.5 L164.1,1307.0 L164.2,1305.5 L164.4,1304.0 L164.5,1302.5 L164.7,1301.0 L164.8,1299.5 L164.9,1298.0 L165.1,1296.5 L165.2,1295.0 L165.4,1293.5 L165.5,1292.0 L165.7,1290.5 L165.8,1289.0 L166.0,1287.5 L166.1,1286.0 L166.3,1284.5 L166.5,1283.0 L166.6,1281.5 L166.8,1280.0 L166.9,1278.5 L167.1,1277.0 L167.3,1275.5 L167.4,1274.0 L167.6,1272.5 L167.8,1271.0 L168.0,1269.5 L168.1,1268.0 L168.3,1266.5 L168.5,1265.0 L168.7,1263.5 L168.8,1262.0 L169.0,1260.5 L169.2,1259.0 L169.4,1257.6 L169.6,1256.1 L169.8,1254.6 L170.0,1253.1 L170.2,1251.6 L170.4,1250.1 L170.6,1248.6 L170.8,1247.1 L171.0,1245.6 L171.2,1244.1 L171.4,1242.6 L171.6,1241.1 L171.8,1239.6 L172.0,1238.1 L172.2,1236.6 L172.5,1235.1 L172.7,1233.6 L172.9,1232.1 L173.1,1230.6 L173.4,1229.1 L173.6,1227.6 L173.8,1226.1 L174.1,1224.6 L174.3,1223.1 L174.6,1221.6 L174.8,1220.1 L175.0,1218.6 L175.3,1217.1 L175.5,1215.7 L175.8,1214.2 L176.1,1212.7 L176.3,1211.2 L176.6,1209.7 L176.9,1208.2 L177.1,1206.7 L177.4,1205.2 L177.7,1203.7 L177.9,1202.2 L178.2,1200.7 L178.5,1199.2 L178.8,1197.7 L179.1,1196.2 L179.4,1194.7 L179.7,1193.2 L180.0,1191.8 L180.4,1190.3 L180.7,1188.8 L181.1,1187.3 L181.4,1185.9 L181.8,1184.4 L182.2,1183.0 L182.6,1181.5 L183.1,1180.1 L183.5,1178.7 L184.0,1177.3 L184.5,1175.9 L185.0,1174.5 L185.5,1173.1 L186.1,1171.8 L186.6,1170.4 L187.2,1169.1 L187.9,1167.8 L188.5,1166.5 L189.2,1165.2 L189.9,1163.9 L190.6,1162.6 L191.4,1161.4 L192.2,1160.2 L193.0,1159.0 L193.9,1157.8 L194.8,1156.6 L195.7,1155.5 L196.6,1154.3 L197.6,1153.2 L198.7,1152.1 L199.7,1151.1 L200.8,1150.0 L202.0,1149.0 L203.2,1148.0 L204.3,1147.0 L205.6,1146.1 L206.8,1145.1 L208.1,1144.2 L209.3,1143.3 L210.6,1142.4 L211.9,1141.5 L213.2,1140.6 L214.5,1139.7 L215.8,1138.8 L217.1,1138.0 L218.4,1137.1 L219.6,1136.3 L220.9,1135.5 L222.2,1134.6 L223.4,1133.8 L224.6,1132.9 L225.9,1132.1 L227.1,1131.3 L228.3,1130.4 L229.5,1129.6 L230.7,1128.8 L231.9,1127.9 L233.2,1127.1 L234.4,1126.2 L235.6,1125.4 L236.8,1124.5 L238.0,1123.6 L239.2,1122.8 L240.4,1121.9 L241.6,1121.0 L242.8,1120.1 L244.0,1119.2 L245.2,1118.3 L246.4,1117.4 L247.6,1116.5 L248.8,1115.6 L249.9,1114.7 L251.1,1113.8 L252.3,1112.9 L253.5,1112.0 L254.7,1111.1 L255.9,1110.2 L257.1,1109.3 L258.2,1108.4 L259.4,1107.5 L260.6,1106.5 L261.8,1105.6 L262.9,1104.7 L264.1,1103.8 L265.3,1102.8 L266.5,1101.9 L267.6,1101.0 L268.8,1100.0 L270.0,1099.1 L271.1,1098.1 L272.3,1097.2 L273.5,1096.2 L274.6,1095.3 L275.8,1094.3 L277.0,1093.3 L278.1,1092.4 L279.3,1091.4 L280.4,1090.4 L281.6,1089.5 L282.7,1088.5 L283.9,1087.5 L285.0,1086.5 L286.2,1085.5 L287.3,1084.5 L288.5,1083.5 L289.6,1082.5 L290.8,1081.5 L291.9,1080.5 L293.1,1079.5 L294.2,1078.4 L295.3,1077.4 L296.5,1076.4 L297.6,1075.4 L298.7,1074.4 L299.9,1073.3 L301.0,1072.3 L302.1,1071.3 L303.3,1070.3 L304.4,1069.2 L305.5,1068.2 L306.7,1067.2 L307.8,1066.1 L308.9,1065.1 L310.0,1064.1 L311.1,1063.0 L312.3,1062.0 L313.4,1061.0 L314.5,1059.9 L315.6,1058.9 L316.7,1057.9 L317.8,1056.8 L318.9,1055.8 L320.1,1054.8 L321.2,1053.8 L322.3,1052.7 L323.4,1051.7 L324.5,1050.7 L325.6,1049.7 L326.7,1048.7 L327.8,1047.7 L328.9,1046.6 L330.0,1045.6 L331.1,1044.6 L332.2,1043.6 L333.3,1042.6 L334.4,1041.6 L335.5,1040.6 L336.6,1039.6 L337.7,1038.6 L338.7,1037.6 L339.8,1036.6 L340.9,1035.6 L342.0,1034.7 L343.1,1033.7 L344.2,1032.6 L345.2,1031.6 L346.3,1030.6 L347.4,1029.6 L348.5,1028.6 L349.6,1027.6 L350.6,1026.6 L351.7,1025.5 L352.8,1024.5 L353.9,1023.5 L354.9,1022.4 L356.0,1021.4 L357.1,1020.3 L358.1,1019.3 L359.2,1018.2 L360.3,1017.2 L361.3,1016.1 L362.4,1015.1 L363.5,1014.0 L364.5,1012.9 L365.6,1011.9 L366.7,1010.8 L367.7,1009.7 L368.8,1008.7 L369.9,1007.6 L370.9,1006.5 L372.0,1005.4 L373.1,1004.4 L374.1,1003.3 L375.2,1002.2 L376.2,1001.1 L377.3,1000.1 L378.4,999.0 L379.4,997.9 L380.5,996.8 L381.6,995.7 L382.6,994.7 L383.7,993.6 L384.8,992.5 L385.8,991.4 L386.9,990.4 L388.0,989.3 L389.1,988.2 L390.1,987.1 L391.2,986.0 L392.3,985.0 L393.3,983.9 L394.4,982.8 L395.5,981.8 L396.6,980.7 L397.7,979.6 L398.7,978.6 L399.8,977.5 L400.9,976.4 L402.0,975.4 L403.1,974.3 L404.2,973.3 L405.2,972.2 L406.3,971.2 L407.4,970.1 L408.5,969.1 L409.6,968.1 L410.7,967.0 L411.8,966.0 L412.9,965.0 L414.0,964.0 L415.1,962.9 L416.2,961.9 L417.3,960.9 L418.4,959.9 L419.6,958.9 L420.7,957.9 L421.8,956.9 L422.9,955.9 L424.0,954.9 L425.2,954.0 L426.3,953.0 L427.4,952.0 L428.6,951.1 L429.7,950.1 L430.8,949.1 L432.0,948.2 L433.1,947.3 L434.3,946.3 L435.4,945.4 L436.6,944.5" fill="none" stroke="#ec2229" stroke-width="3" stroke-linecap="round" stroke-linejoin="round"/>
<line x1="708" y1="803.0" x2="763" y2="803.0" stroke="#3c3c3c" stroke-width="3" stroke-linecap="round"/>
<text x="769.5" y="811.4" font-size="24" fill="#000" text-anchor="start" font-weight="bold" >CGV</text>
<line x1="708" y1="834.0" x2="763" y2="834.0" stroke="#ec2229" stroke-width="3" stroke-linecap="round"/>
<text x="769.5" y="842.4" font-size="24" font-weight="bold" fill="#000">CGVC<tspan font-size="17" dy="6">5</tspan></text>
<line x1="708" y1="870.2" x2="763" y2="870.2" stroke="#0559d8" stroke-width="3" stroke-linecap="round"/>
<text x="769.5" y="878.6" font-size="24" font-weight="bold" fill="#000">CGVC<tspan font-size="17" dy="6">10</tspan></text>
<line x1="708" y1="906.9" x2="763" y2="906.9" stroke="#18a055" stroke-width="3" stroke-linecap="round"/>
<text x="769.5" y="915.3" font-size="24" font-weight="bold" fill="#000">CGVC<tspan font-size="17" dy="6">15</tspan></text>
<line x1="708" y1="943.3" x2="763" y2="943.3" stroke="#a462de" stroke-width="3" stroke-linecap="round"/>
<text x="769.5" y="951.7" font-size="24" font-weight="bold" fill="#000">CGVC<tspan font-size="17" dy="6">20</tspan></text>
<text x="0.0" y="1516.6" font-size="36.5" fill="#000" text-anchor="start" font-weight="normal" >(c)</text>
<line x1="160.1" y1="1517.4" x2="877.5" y2="1517.4" stroke="#454545" stroke-width="2.2"/>
<line x1="161.1" y1="1517.4" x2="161.1" y2="2095.4" stroke="#454545" stroke-width="2.2"/>
<line x1="160.1" y1="2095.4" x2="878.5" y2="2095.4" stroke="#000" stroke-width="2.2"/>
<line x1="877.5" y1="1516.4" x2="877.5" y2="2096.4" stroke="#ff0000" stroke-width="2.2"/>
<line x1="150.1" y1="2095.4" x2="161.1" y2="2095.4" stroke="#454545" stroke-width="2.2"/>
<text x="141.5" y="2102.6" font-size="24" fill="#3a3a3a" text-anchor="end" font-weight="bold" >0</text>
<line x1="155.6" y1="2042.8" x2="161.1" y2="2042.8" stroke="#454545" stroke-width="2.2"/>
<line x1="150.1" y1="1990.2" x2="161.1" y2="1990.2" stroke="#454545" stroke-width="2.2"/>
<text x="141.5" y="1997.4" font-size="24" fill="#3a3a3a" text-anchor="end" font-weight="bold" >20</text>
<line x1="155.6" y1="1937.6" x2="161.1" y2="1937.6" stroke="#454545" stroke-width="2.2"/>
<line x1="150.1" y1="1885.0" x2="161.1" y2="1885.0" stroke="#454545" stroke-width="2.2"/>
<text x="141.5" y="1892.2" font-size="24" fill="#3a3a3a" text-anchor="end" font-weight="bold" >40</text>
<line x1="155.6" y1="1832.5" x2="161.1" y2="1832.5" stroke="#454545" stroke-width="2.2"/>
<line x1="150.1" y1="1779.9" x2="161.1" y2="1779.9" stroke="#454545" stroke-width="2.2"/>
<text x="141.5" y="1787.1" font-size="24" fill="#3a3a3a" text-anchor="end" font-weight="bold" >60</text>
<line x1="155.6" y1="1727.3" x2="161.1" y2="1727.3" stroke="#454545" stroke-width="2.2"/>
<line x1="150.1" y1="1674.7" x2="161.1" y2="1674.7" stroke="#454545" stroke-width="2.2"/>
<text x="141.5" y="1681.9" font-size="24" fill="#3a3a3a" text-anchor="end" font-weight="bold" >80</text>
<line x1="155.6" y1="1622.1" x2="161.1" y2="1622.1" stroke="#454545" stroke-width="2.2"/>
<line x1="150.1" y1="1569.5" x2="161.1" y2="1569.5" stroke="#454545" stroke-width="2.2"/>
<text x="141.5" y="1576.7" font-size="24" fill="#3a3a3a" text-anchor="end" font-weight="bold" >100</text>
<line x1="155.6" y1="1516.9" x2="161.1" y2="1516.9" stroke="#454545" stroke-width="2.2"/>
<line x1="178.6" y1="2095.4" x2="178.6" y2="2106.4" stroke="#000" stroke-width="2.2"/>
<text x="178.6" y="2133.6" font-size="24" fill="#000" text-anchor="middle" font-weight="bold" >50</text>
<line x1="222.3" y1="2095.4" x2="222.3" y2="2100.9" stroke="#000" stroke-width="2.2"/>
<line x1="266.0" y1="2095.4" x2="266.0" y2="2106.4" stroke="#000" stroke-width="2.2"/>
<text x="266.0" y="2133.6" font-size="24" fill="#000" text-anchor="middle" font-weight="bold" >100</text>
<line x1="309.7" y1="2095.4" x2="309.7" y2="2100.9" stroke="#000" stroke-width="2.2"/>
<line x1="353.4" y1="2095.4" x2="353.4" y2="2106.4" stroke="#000" stroke-width="2.2"/>
<text x="353.4" y="2133.6" font-size="24" fill="#000" text-anchor="middle" font-weight="bold" >150</text>
<line x1="397.0" y1="2095.4" x2="397.0" y2="2100.9" stroke="#000" stroke-width="2.2"/>
<line x1="440.7" y1="2095.4" x2="440.7" y2="2106.4" stroke="#000" stroke-width="2.2"/>
<text x="440.7" y="2133.6" font-size="24" fill="#000" text-anchor="middle" font-weight="bold" >200</text>
<line x1="484.4" y1="2095.4" x2="484.4" y2="2100.9" stroke="#000" stroke-width="2.2"/>
<line x1="528.1" y1="2095.4" x2="528.1" y2="2106.4" stroke="#000" stroke-width="2.2"/>
<text x="528.1" y="2133.6" font-size="24" fill="#000" text-anchor="middle" font-weight="bold" >250</text>
<line x1="571.8" y1="2095.4" x2="571.8" y2="2100.9" stroke="#000" stroke-width="2.2"/>
<line x1="615.5" y1="2095.4" x2="615.5" y2="2106.4" stroke="#000" stroke-width="2.2"/>
<text x="615.5" y="2133.6" font-size="24" fill="#000" text-anchor="middle" font-weight="bold" >300</text>
<line x1="659.2" y1="2095.4" x2="659.2" y2="2100.9" stroke="#000" stroke-width="2.2"/>
<line x1="702.9" y1="2095.4" x2="702.9" y2="2106.4" stroke="#000" stroke-width="2.2"/>
<text x="702.9" y="2133.6" font-size="24" fill="#000" text-anchor="middle" font-weight="bold" >350</text>
<line x1="746.5" y1="2095.4" x2="746.5" y2="2100.9" stroke="#000" stroke-width="2.2"/>
<line x1="790.2" y1="2095.4" x2="790.2" y2="2106.4" stroke="#000" stroke-width="2.2"/>
<text x="790.2" y="2133.6" font-size="24" fill="#000" text-anchor="middle" font-weight="bold" >400</text>
<line x1="833.9" y1="2095.4" x2="833.9" y2="2100.9" stroke="#000" stroke-width="2.2"/>
<line x1="877.6" y1="2095.4" x2="877.6" y2="2106.4" stroke="#000" stroke-width="2.2"/>
<text x="877.6" y="2133.6" font-size="24" fill="#000" text-anchor="middle" font-weight="bold" >450</text>
<line x1="877.5" y1="2095.4" x2="888.5" y2="2095.4" stroke="#ff0000" stroke-width="2.2"/>
<text x="896.8" y="2102.7" font-size="24" fill="#ff0000" text-anchor="start" font-weight="bold" >0</text>
<line x1="877.5" y1="2059.3" x2="883.0" y2="2059.3" stroke="#ff0000" stroke-width="2.2"/>
<line x1="877.5" y1="2023.1" x2="888.5" y2="2023.1" stroke="#ff0000" stroke-width="2.2"/>
<text x="896.8" y="2030.4" font-size="24" fill="#ff0000" text-anchor="start" font-weight="bold" >-5</text>
<line x1="877.5" y1="1987.0" x2="883.0" y2="1987.0" stroke="#ff0000" stroke-width="2.2"/>
<line x1="877.5" y1="1950.9" x2="888.5" y2="1950.9" stroke="#ff0000" stroke-width="2.2"/>
<text x="896.8" y="1958.2" font-size="24" fill="#ff0000" text-anchor="start" font-weight="bold" >-10</text>
<line x1="877.5" y1="1914.7" x2="883.0" y2="1914.7" stroke="#ff0000" stroke-width="2.2"/>
<line x1="877.5" y1="1878.6" x2="888.5" y2="1878.6" stroke="#ff0000" stroke-width="2.2"/>
<text x="896.8" y="1885.9" font-size="24" fill="#ff0000" text-anchor="start" font-weight="bold" >-15</text>
<line x1="877.5" y1="1842.4" x2="883.0" y2="1842.4" stroke="#ff0000" stroke-width="2.2"/>
<line x1="877.5" y1="1806.3" x2="888.5" y2="1806.3" stroke="#ff0000" stroke-width="2.2"/>
<text x="896.8" y="1813.6" font-size="24" fill="#ff0000" text-anchor="start" font-weight="bold" >-20</text>
<line x1="877.5" y1="1770.2" x2="883.0" y2="1770.2" stroke="#ff0000" stroke-width="2.2"/>
<line x1="877.5" y1="1734.0" x2="888.5" y2="1734.0" stroke="#ff0000" stroke-width="2.2"/>
<text x="896.8" y="1741.3" font-size="24" fill="#ff0000" text-anchor="start" font-weight="bold" >-25</text>
<line x1="877.5" y1="1697.9" x2="883.0" y2="1697.9" stroke="#ff0000" stroke-width="2.2"/>
<line x1="877.5" y1="1661.8" x2="888.5" y2="1661.8" stroke="#ff0000" stroke-width="2.2"/>
<text x="896.8" y="1669.0" font-size="24" fill="#ff0000" text-anchor="start" font-weight="bold" >-30</text>
<line x1="877.5" y1="1625.6" x2="883.0" y2="1625.6" stroke="#ff0000" stroke-width="2.2"/>
<line x1="877.5" y1="1589.5" x2="888.5" y2="1589.5" stroke="#ff0000" stroke-width="2.2"/>
<text x="896.8" y="1596.8" font-size="24" fill="#ff0000" text-anchor="start" font-weight="bold" >-35</text>
<line x1="877.5" y1="1553.3" x2="883.0" y2="1553.3" stroke="#ff0000" stroke-width="2.2"/>
<line x1="877.5" y1="1517.2" x2="888.5" y2="1517.2" stroke="#ff0000" stroke-width="2.2"/>
<text x="896.8" y="1524.5" font-size="24" fill="#ff0000" text-anchor="start" font-weight="bold" >-40</text>
<text x="401.0" y="2184.0" font-size="30" fill="#000" text-anchor="start" font-weight="bold" >Temperature (</text>
<circle cx="604.8" cy="2164.3" r="2.8" fill="none" stroke="#000" stroke-width="1.4"/>
<text x="606.8" y="2183.6" style="font-family:'Liberation Serif',serif" font-size="31" fill="#000">C</text>
<text x="629.8" y="2183.6" font-size="30" fill="#000" text-anchor="start" font-weight="bold" >)</text>
<text transform="translate(81.0,1805.3) rotate(-90)" font-size="30" fill="#000" text-anchor="middle" font-weight="bold">Weight (%)</text>
<text transform="translate(966.3,1799.9) rotate(-90)" font-size="30" fill="#000" text-anchor="middle" font-weight="bold">DTG (dW/dT)</text>
<path d="M161.2,1571.7 L164.2,1572.1 L167.2,1572.5 L170.2,1573.0 L173.2,1573.5 L176.2,1574.0 L179.2,1574.6 L182.2,1575.2 L185.2,1575.9 L188.2,1576.5 L191.2,1577.2 L194.2,1577.9 L197.2,1578.6 L200.2,1579.3 L203.2,1580.1 L206.2,1580.8 L209.2,1581.6 L212.2,1582.4 L215.2,1583.2 L218.2,1583.9 L221.2,1584.7 L224.2,1585.5 L227.2,1586.3 L230.2,1587.0 L233.2,1587.8 L236.2,1588.5 L239.2,1589.3 L242.2,1590.0 L245.2,1590.7 L248.2,1591.4 L251.2,1592.0 L254.2,1592.7 L257.2,1593.3 L260.2,1593.9 L263.2,1594.4 L266.2,1594.9 L269.2,1595.5 L272.2,1595.9 L275.2,1596.4 L278.2,1596.9 L281.2,1597.3 L284.2,1597.8 L287.2,1598.2 L290.2,1598.6 L293.2,1599.1 L296.2,1599.5 L299.2,1599.9 L302.2,1600.4 L305.2,1600.8 L308.2,1601.3 L311.2,1601.7 L314.2,1602.2 L317.2,1602.7 L320.2,1603.2 L323.2,1603.8 L326.2,1604.4 L329.2,1604.9 L332.2,1605.6 L335.2,1606.2 L338.2,1606.9 L341.2,1607.6 L344.2,1608.4 L347.2,1609.2 L350.2,1610.1 L353.2,1611.0 L356.2,1611.9 L359.2,1612.9 L362.2,1613.9 L365.2,1615.1 L368.2,1616.2 L371.2,1617.5 L374.2,1618.9 L377.2,1620.3 L380.2,1621.8 L383.2,1623.4 L386.2,1625.1 L389.2,1627.0 L392.2,1628.9 L395.2,1631.0 L398.2,1633.2 L401.2,1635.5 L404.2,1638.0 L407.2,1640.6 L410.2,1643.3 L413.2,1646.2 L416.2,1649.1 L419.2,1652.2 L422.2,1655.3 L425.2,1658.5 L428.2,1661.7 L431.2,1665.0 L434.2,1668.3 L437.2,1671.7 L440.2,1675.0 L443.2,1678.2 L446.2,1681.4 L449.2,1684.5 L452.2,1687.6 L455.2,1690.4 L458.2,1693.2 L461.2,1695.9 L464.2,1698.4 L467.2,1700.9 L470.2,1703.2 L473.2,1705.5 L476.2,1707.7 L479.2,1709.9 L482.2,1712.0 L485.2,1714.0 L488.2,1716.1 L491.2,1718.0 L494.2,1720.0 L497.2,1721.9 L500.2,1723.8 L503.2,1725.6 L506.2,1727.5 L509.2,1729.3 L512.2,1731.1 L515.2,1732.9 L518.2,1734.7 L521.2,1736.4 L524.2,1738.2 L527.2,1740.0 L530.2,1741.8 L533.2,1743.5 L536.2,1745.3 L539.2,1747.1 L542.2,1748.9 L545.2,1750.7 L548.2,1752.6 L551.2,1754.4 L554.2,1756.3 L557.2,1758.2 L560.2,1760.2 L563.2,1762.1 L566.2,1764.1 L569.2,1766.2 L572.2,1768.3 L575.2,1770.4 L578.2,1772.6 L581.2,1774.8 L584.2,1777.1 L587.2,1779.4 L590.2,1781.8 L593.2,1784.2 L596.2,1786.7 L599.2,1789.2 L602.2,1791.8 L605.2,1794.4 L608.2,1797.0 L611.2,1799.7 L614.2,1802.4 L617.2,1805.1 L620.2,1807.8 L623.2,1810.6 L626.2,1813.3 L629.2,1816.1 L632.2,1818.8 L635.2,1821.6 L638.2,1824.4 L641.2,1827.1 L644.2,1829.8 L647.2,1832.5 L650.2,1835.2 L653.2,1837.9 L656.2,1840.5 L659.2,1843.1 L662.2,1845.6 L665.2,1848.2 L668.2,1850.6 L671.2,1853.0 L674.2,1855.4 L677.2,1857.7 L680.2,1860.0 L683.2,1862.2 L686.2,1864.3 L689.2,1866.4 L692.2,1868.5 L695.2,1870.5 L698.2,1872.4 L701.2,1874.4 L704.2,1876.2 L707.2,1878.0 L710.2,1879.8 L713.2,1881.6 L716.2,1883.3 L719.2,1884.9 L722.2,1886.5 L725.2,1888.1 L728.2,1889.7 L731.2,1891.2 L734.2,1892.7 L737.2,1894.1 L740.2,1895.5 L743.2,1896.9 L746.2,1898.3 L749.2,1899.6 L752.2,1900.9 L755.2,1902.2 L758.2,1903.5 L761.2,1904.7 L764.2,1906.0 L767.2,1907.2 L770.2,1908.3 L773.2,1909.5 L776.2,1910.7 L779.2,1911.8 L782.2,1912.9 L785.2,1914.0 L788.2,1915.1 L791.2,1916.2 L794.2,1917.3 L797.2,1918.4 L800.2,1919.5 L803.2,1920.5 L806.2,1921.6 L809.2,1922.7 L812.2,1923.7 L815.2,1924.8 L818.2,1925.9 L821.2,1926.9 L824.2,1928.0 L827.2,1929.1 L830.2,1930.1 L833.2,1931.2 L836.2,1932.3 L839.2,1933.4 L842.2,1934.5 L845.2,1935.7 L848.2,1936.8 L851.2,1938.0 L854.2,1939.2 L857.2,1940.3 L860.2,1941.6 L863.2,1942.8 L866.2,1944.0 L869.2,1945.3 L872.2,1946.6 L875.2,1947.9 L877.3,1948.9" fill="none" stroke="#464646" stroke-width="4.2" stroke-linejoin="round"/>
<path d="M161.8,2070.8 L163.0,2070.0 L164.1,2069.2 L165.3,2068.4 L166.4,2067.5 L167.6,2066.7 L168.7,2065.8 L169.9,2064.9 L171.1,2063.9 L172.2,2063.0 L173.4,2062.0 L174.5,2061.1 L175.7,2060.1 L176.8,2059.1 L178.0,2058.1 L179.2,2057.1 L180.3,2056.1 L181.5,2055.0 L182.7,2054.0 L183.9,2053.0 L185.1,2052.0 L186.3,2051.0 L187.4,2050.0 L188.6,2049.0 L189.9,2048.0 L191.1,2047.0 L192.3,2046.1 L193.5,2045.1 L194.7,2044.2 L196.0,2043.3 L197.2,2042.3 L198.5,2041.5 L199.7,2040.6 L201.0,2039.8 L202.3,2038.9 L203.6,2038.1 L204.9,2037.4 L206.2,2036.7 L207.5,2035.9 L208.9,2035.3 L210.2,2034.6 L211.6,2034.0 L212.9,2033.5 L214.3,2032.9 L215.7,2032.5 L217.1,2032.0 L218.5,2031.6 L219.9,2031.3 L221.4,2030.9 L222.8,2030.7 L224.3,2030.5 L225.7,2030.3 L227.2,2030.2 L228.7,2030.1 L230.1,2030.1 L231.6,2030.1 L233.0,2030.2 L234.5,2030.3 L235.9,2030.5 L237.4,2030.7 L238.8,2031.0 L240.2,2031.4 L241.6,2031.8 L243.0,2032.2 L244.3,2032.7 L245.7,2033.3 L247.0,2033.9 L248.3,2034.6 L249.6,2035.4 L250.8,2036.2 L252.1,2037.0 L253.3,2037.9 L254.5,2038.8 L255.7,2039.7 L256.9,2040.7 L258.1,2041.7 L259.3,2042.7 L260.4,2043.7 L261.6,2044.8 L262.8,2045.8 L264.0,2046.9 L265.1,2048.0 L266.3,2049.0 L267.5,2050.1 L268.7,2051.1 L269.9,2052.1 L271.2,2053.1 L272.4,2054.1 L273.6,2055.1 L274.9,2056.0 L276.2,2056.9 L277.5,2057.8 L278.8,2058.6 L280.2,2059.4 L281.5,2060.1 L282.9,2060.8 L284.2,2061.4 L285.6,2062.0 L287.0,2062.6 L288.4,2063.0 L289.8,2063.5 L291.2,2063.8 L292.6,2064.2 L294.0,2064.4 L295.4,2064.6 L296.8,2064.7 L298.1,2064.7 L299.5,2064.7 L300.9,2064.6 L302.3,2064.4 L303.7,2064.2 L305.0,2063.8 L306.4,2063.4 L307.7,2063.0 L309.0,2062.5 L310.3,2061.9 L311.7,2061.2 L313.0,2060.6 L314.2,2059.8 L315.5,2059.0 L316.8,2058.2 L318.0,2057.3 L319.3,2056.4 L320.5,2055.5 L321.7,2054.5 L322.9,2053.5 L324.1,2052.4 L325.3,2051.4 L326.4,2050.3 L327.5,2049.2 L328.7,2048.1 L329.8,2047.0 L330.8,2045.8 L331.9,2044.7 L333.0,2043.6 L334.0,2042.4 L335.0,2041.3 L336.0,2040.1 L337.0,2038.9 L338.0,2037.8 L339.0,2036.6 L339.9,2035.4 L340.8,2034.2 L341.7,2033.0 L342.7,2031.8 L343.5,2030.6 L344.4,2029.3 L345.3,2028.1 L346.1,2026.9 L347.0,2025.6 L347.8,2024.4 L348.6,2023.1 L349.4,2021.9 L350.2,2020.6 L351.0,2019.3 L351.8,2018.1 L352.5,2016.8 L353.3,2015.5 L354.0,2014.2 L354.8,2012.9 L355.5,2011.6 L356.2,2010.3 L356.9,2009.0 L357.6,2007.7 L358.3,2006.4 L359.0,2005.1 L359.6,2003.7 L360.3,2002.4 L361.0,2001.1 L361.6,1999.7 L362.3,1998.4 L362.9,1997.0 L363.5,1995.7 L364.2,1994.3 L364.8,1993.0 L365.4,1991.6 L366.0,1990.3 L366.6,1988.9 L367.2,1987.5 L367.8,1986.1 L368.4,1984.8 L369.0,1983.4 L369.6,1982.0 L370.2,1980.6 L370.8,1979.2 L371.4,1977.8 L371.9,1976.5 L372.5,1975.1 L373.1,1973.7 L373.6,1972.3 L374.2,1970.9 L374.7,1969.5 L375.3,1968.1 L375.8,1966.7 L376.4,1965.2 L376.9,1963.8 L377.5,1962.4 L378.0,1961.0 L378.5,1959.6 L379.1,1958.2 L379.6,1956.8 L380.1,1955.3 L380.6,1953.9 L381.2,1952.5 L381.7,1951.1 L382.2,1949.7 L382.7,1948.2 L383.2,1946.8 L383.7,1945.4 L384.2,1944.0 L384.7,1942.5 L385.2,1941.1 L385.7,1939.7 L386.2,1938.2 L386.7,1936.8 L387.2,1935.4 L387.7,1933.9 L388.1,1932.5 L388.6,1931.1 L389.1,1929.7 L389.6,1928.2 L390.0,1926.8 L390.5,1925.4 L391.0,1923.9 L391.5,1922.5 L391.9,1921.1 L392.4,1919.7 L392.9,1918.2 L393.3,1916.8 L393.8,1915.4 L394.2,1913.9 L394.7,1912.5 L395.1,1911.1 L395.6,1909.7 L396.0,1908.3 L396.5,1906.8 L396.9,1905.4 L397.4,1904.0 L397.8,1902.6 L398.3,1901.2 L398.7,1899.8 L399.2,1898.4 L399.6,1896.9 L400.1,1895.5 L400.5,1894.1 L400.9,1892.7 L401.4,1891.3 L401.8,1889.9 L402.3,1888.5 L402.7,1887.1 L403.1,1885.7 L403.6,1884.4 L404.0,1883.0 L404.5,1881.6 L404.9,1880.2 L405.3,1878.8 L405.8,1877.4 L406.2,1876.0 L406.7,1874.6 L407.2,1873.2 L407.6,1871.8 L408.1,1870.4 L408.5,1868.9 L409.0,1867.5 L409.5,1866.1 L410.0,1864.7 L410.5,1863.2 L411.0,1861.8 L411.5,1860.4 L412.0,1858.9 L412.5,1857.4 L413.1,1856.0 L413.6,1854.5 L414.1,1853.0 L414.7,1851.5 L415.3,1850.0 L415.8,1848.5 L416.4,1847.0 L417.0,1845.4 L417.6,1843.9 L418.3,1842.3 L418.9,1840.8 L419.5,1839.2 L420.2,1837.6 L420.9,1836.0 L421.5,1834.4 L422.2,1832.9 L423.0,1831.4 L423.7,1829.9 L424.4,1828.5 L425.2,1827.2 L426.0,1826.0 L426.7,1824.8 L427.6,1823.7 L428.4,1822.8 L429.2,1822.0 L430.1,1821.3 L431.0,1820.7 L431.9,1820.3 L432.8,1820.1 L433.7,1820.0 L434.7,1820.1 L435.6,1820.4 L436.6,1820.9 L437.6,1821.4 L438.6,1822.2 L439.5,1823.0 L440.5,1824.0 L441.5,1825.0 L442.4,1826.1 L443.4,1827.4 L444.3,1828.7 L445.2,1830.0 L446.1,1831.4 L447.0,1832.8 L447.8,1834.2 L448.6,1835.7 L449.4,1837.1 L450.1,1838.6 L450.8,1840.0 L451.5,1841.5 L452.1,1842.9 L452.8,1844.3 L453.4,1845.7 L453.9,1847.2 L454.5,1848.6 L455.0,1850.0 L455.5,1851.4 L456.0,1852.8 L456.5,1854.2 L456.9,1855.6 L457.4,1857.0 L457.8,1858.4 L458.2,1859.9 L458.6,1861.3 L459.0,1862.7 L459.4,1864.1 L459.8,1865.5 L460.1,1866.9 L460.5,1868.3 L460.9,1869.8 L461.2,1871.2 L461.6,1872.6 L462.0,1874.0 L462.3,1875.5 L462.7,1876.9 L463.1,1878.4 L463.5,1879.8 L463.9,1881.3 L464.3,1882.8 L464.7,1884.2 L465.1,1885.7 L465.6,1887.2 L466.0,1888.7 L466.5,1890.2 L467.0,1891.7 L467.5,1893.2 L468.0,1894.7 L468.5,1896.2 L469.1,1897.7 L469.6,1899.2 L470.2,1900.7 L470.8,1902.2 L471.4,1903.6 L472.0,1905.1 L472.7,1906.5 L473.3,1907.9 L474.0,1909.4 L474.7,1910.8 L475.4,1912.1 L476.1,1913.5 L476.9,1914.9 L477.7,1916.2 L478.5,1917.5 L479.3,1918.7 L480.1,1920.0 L481.0,1921.2 L481.9,1922.4 L482.8,1923.6 L483.7,1924.7 L484.7,1925.8 L485.6,1926.8 L486.6,1927.9 L487.7,1928.9 L488.7,1929.8 L489.8,1930.7 L490.9,1931.6 L492.0,1932.4 L493.2,1933.2 L494.3,1933.9 L495.5,1934.6 L496.8,1935.3 L498.0,1935.9 L499.3,1936.4 L500.6,1936.9 L501.9,1937.4 L503.3,1937.8 L504.6,1938.2 L506.0,1938.5 L507.4,1938.8 L508.8,1939.0 L510.3,1939.2 L511.7,1939.4 L513.2,1939.5 L514.6,1939.6 L516.1,1939.6 L517.6,1939.7 L519.1,1939.6 L520.6,1939.6 L522.1,1939.4 L523.6,1939.3 L525.1,1939.1 L526.6,1938.9 L528.1,1938.7 L529.6,1938.4 L531.1,1938.1 L532.7,1937.7 L534.2,1937.4 L535.7,1937.0 L537.1,1936.5 L538.6,1936.1 L540.1,1935.6 L541.6,1935.1 L543.0,1934.5 L544.4,1933.9 L545.9,1933.3 L547.3,1932.7 L548.7,1932.0 L550.0,1931.4 L551.4,1930.7 L552.7,1929.9 L554.0,1929.2 L555.3,1928.4 L556.6,1927.6 L557.8,1926.8 L559.1,1925.9 L560.3,1925.1 L561.5,1924.2 L562.7,1923.3 L563.8,1922.4 L565.0,1921.5 L566.1,1920.5 L567.3,1919.6 L568.4,1918.6 L569.5,1917.6 L570.6,1916.6 L571.7,1915.6 L572.7,1914.5 L573.8,1913.5 L574.9,1912.4 L575.9,1911.3 L577.0,1910.2 L578.0,1909.2 L579.0,1908.1 L580.1,1906.9 L581.1,1905.8 L582.1,1904.7 L583.1,1903.6 L584.1,1902.4 L585.2,1901.3 L586.2,1900.1 L587.2,1898.9 L588.2,1897.8 L589.2,1896.6 L590.3,1895.4 L591.3,1894.3 L592.3,1893.1 L593.4,1891.9 L594.4,1890.7 L595.4,1889.6 L596.5,1888.4 L597.6,1887.2 L598.6,1886.1 L599.7,1884.9 L600.8,1883.7 L601.9,1882.6 L603.0,1881.4 L604.2,1880.2 L605.3,1879.1 L606.5,1878.0 L607.6,1876.9 L608.8,1875.8 L610.0,1874.8 L611.1,1873.8 L612.3,1872.9 L613.5,1872.1 L614.6,1871.4 L615.8,1870.8 L617.0,1870.2 L618.1,1869.8 L619.2,1869.5 L620.4,1869.4 L621.5,1869.4 L622.5,1869.5 L623.6,1869.8 L624.7,1870.2 L625.7,1870.8 L626.8,1871.4 L627.8,1872.2 L628.8,1873.0 L629.8,1874.0 L630.8,1875.0 L631.8,1876.0 L632.8,1877.2 L633.8,1878.4 L634.8,1879.6 L635.8,1880.9 L636.8,1882.2 L637.8,1883.5 L638.9,1884.8 L639.9,1886.1 L640.9,1887.4 L641.9,1888.7 L643.0,1889.9 L644.0,1891.2 L645.1,1892.3 L646.2,1893.5 L647.3,1894.6 L648.4,1895.7 L649.5,1896.8 L650.6,1897.9 L651.7,1898.9 L652.9,1899.9 L654.0,1900.9 L655.2,1901.9 L656.3,1902.8 L657.5,1903.7 L658.6,1904.7 L659.8,1905.6 L661.0,1906.4 L662.1,1907.3 L663.3,1908.2 L664.5,1909.1 L665.7,1909.9 L666.8,1910.8 L668.0,1911.6 L669.2,1912.5 L670.3,1913.3 L671.5,1914.1 L672.7,1915.0 L673.9,1915.8 L675.0,1916.7 L676.2,1917.6 L677.3,1918.4 L678.5,1919.3 L679.6,1920.2 L680.8,1921.1 L681.9,1922.0 L683.0,1923.0 L684.1,1923.9 L685.2,1924.9 L686.3,1925.9 L687.4,1926.9 L688.5,1927.9 L689.6,1928.9 L690.7,1929.9 L691.7,1931.0 L692.8,1932.0 L693.8,1933.1 L694.9,1934.2 L696.0,1935.3 L697.0,1936.4 L698.0,1937.5 L699.1,1938.6 L700.1,1939.7 L701.2,1940.8 L702.2,1941.9 L703.2,1943.1 L704.3,1944.2 L705.3,1945.3 L706.3,1946.5 L707.4,1947.6 L708.4,1948.8 L709.4,1949.9 L710.5,1951.1 L711.5,1952.2 L712.6,1953.4 L713.6,1954.5 L714.6,1955.7 L715.7,1956.8 L716.7,1958.0 L717.8,1959.1 L718.9,1960.2 L719.9,1961.4 L721.0,1962.5 L722.1,1963.6 L723.1,1964.7 L724.2,1965.8 L725.3,1966.9 L726.4,1968.0 L727.5,1969.1 L728.6,1970.1 L729.8,1971.2 L730.9,1972.2 L732.0,1973.2 L733.2,1974.3 L734.3,1975.3 L735.5,1976.2 L736.7,1977.2 L737.8,1978.2 L739.0,1979.1 L740.2,1980.1 L741.4,1981.0 L742.6,1981.9 L743.8,1982.7 L745.1,1983.6 L746.3,1984.4 L747.5,1985.2 L748.8,1986.0 L750.0,1986.8 L751.3,1987.6 L752.6,1988.3 L753.8,1989.0 L755.1,1989.7 L756.4,1990.3 L757.7,1991.0 L759.0,1991.6 L760.3,1992.2 L761.7,1992.7 L763.0,1993.2 L764.3,1993.7 L765.7,1994.2 L767.0,1994.7 L768.4,1995.1 L769.8,1995.4 L771.1,1995.8 L772.5,1996.1 L773.9,1996.4 L775.3,1996.6 L776.7,1996.9 L778.1,1997.0 L779.5,1997.2 L780.9,1997.3 L782.4,1997.4 L783.8,1997.4 L785.3,1997.4 L786.7,1997.4 L788.2,1997.4 L789.6,1997.3 L791.1,1997.2 L792.6,1997.1 L794.1,1997.0 L795.5,1996.9 L797.0,1996.8 L798.5,1996.7 L800.0,1996.6 L801.5,1996.5 L803.0,1996.4 L804.5,1996.3 L806.0,1996.3 L807.6,1996.2 L809.1,1996.2 L810.6,1996.2 L812.1,1996.3 L813.6,1996.4 L815.1,1996.5 L816.7,1996.7 L818.2,1996.8 L819.7,1997.0 L821.2,1997.3 L822.8,1997.5 L824.3,1997.8 L825.8,1998.1 L827.3,1998.3 L828.9,1998.6 L830.4,1998.9 L831.9,1999.2 L833.4,1999.5 L834.9,1999.8 L836.5,2000.1 L838.0,2000.4 L839.5,2000.6 L841.0,2000.8 L842.5,2001.1 L844.0,2001.3 L845.5,2001.4 L847.0,2001.6 L848.5,2001.7 L849.9,2001.8 L851.4,2001.8 L852.9,2001.8 L854.3,2001.8 L855.8,2001.7 L857.3,2001.6 L858.7,2001.5 L860.2,2001.3 L861.6,2001.1 L863.0,2000.8 L864.4,2000.4 L865.8,2000.1 L867.2,1999.6 L868.6,1999.1 L870.0,1998.6 L871.4,1998.0 L872.8,1997.3 L874.1,1996.6 L875.5,1995.8" fill="none" stroke="#ff0000" stroke-width="4.6" stroke-dasharray="5.5 10.5" stroke-linecap="round"/>
<path d="M877.2,2005 L877.6,2014" stroke="#ff0000" stroke-width="4" stroke-linecap="round"/>
</svg>
</body></html>
